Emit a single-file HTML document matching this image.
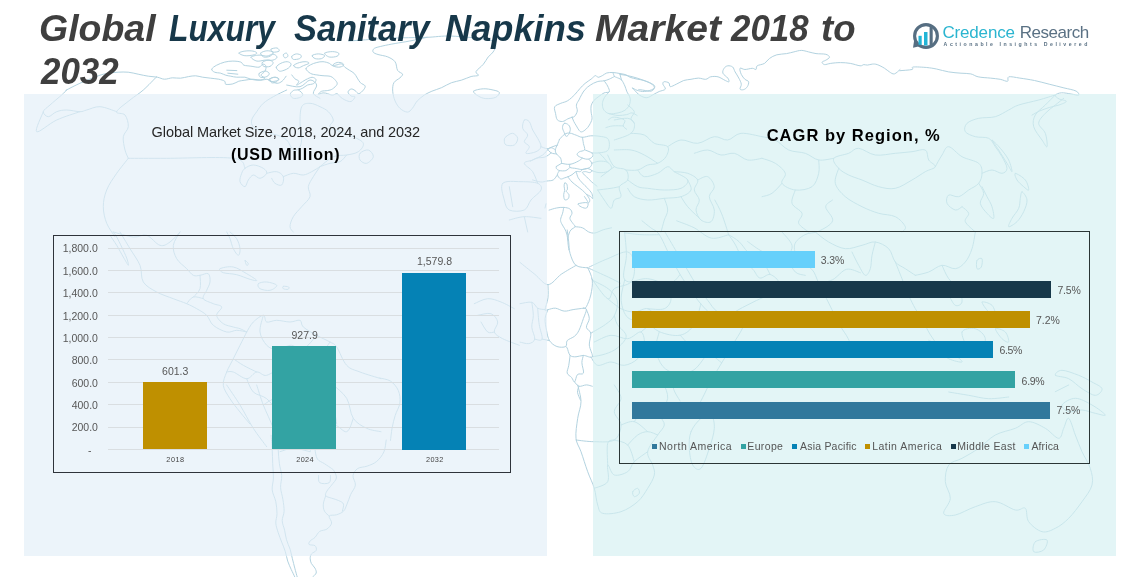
<!DOCTYPE html><html lang="en"><head><meta charset="utf-8"><title>Global Luxury Sanitary Napkins Market 2018 to 2032</title><style>
html,body{margin:0;padding:0;background:#fff}
body{width:1143px;height:577px;position:relative;overflow:hidden;font-family:"Liberation Sans",sans-serif}
.t{position:absolute;white-space:pre;margin:0}
.p{position:absolute}
.g{margin:0;padding:0;font:inherit;display:block}
span.t{display:block}
</style></head><body>
<svg class="p" style="left:0;top:0" width="1143" height="577" viewBox="0 0 1143 577" fill="none" stroke="#b3d3e0" stroke-width="1.0" stroke-linejoin="round" stroke-linecap="round" opacity="1"><path d="M286.7 85.0C288.9 85.3 296.0 87.5 300.0 86.7C304.0 85.8 307.2 80.3 310.0 80.0C312.8 79.7 316.1 82.7 316.7 85.0C317.2 87.3 312.8 91.1 313.3 93.3C313.9 95.6 318.9 97.5 320.0 98.3"/><path d="M156.7 76.7C154.4 78.9 147.9 86.0 143.3 90.0C138.8 94.0 134.5 96.3 130.0 100.0C125.5 103.7 117.5 109.1 116.7 111.7C115.8 114.2 123.0 112.5 125.0 115.0C127.0 117.5 128.6 123.0 128.3 126.7C128.1 130.3 123.9 132.7 123.3 136.7C122.8 140.6 124.1 146.3 125.0 150.0C125.9 153.7 127.8 156.9 128.3 158.3"/><path d="M128.3 158.3C134.8 158.3 148.8 158.3 166.7 158.3C184.5 158.3 220.0 156.6 233.3 158.3C246.7 160.0 243.0 166.6 245.0 168.3"/><path d="M128.3 158.3C126.4 160.9 120.4 168.0 116.7 173.3C113.0 178.7 108.9 184.3 106.7 190.0C104.4 195.7 103.3 201.0 103.3 206.7C103.3 212.3 104.7 218.2 106.7 223.3C108.7 228.4 113.6 234.4 115.0 236.7"/><path d="M66.7 90.0C65.8 90.8 64.5 92.5 61.7 95.0C58.8 97.5 53.1 102.2 50.0 105.0C46.9 107.8 43.6 109.7 43.3 111.7C43.1 113.7 46.1 116.7 48.3 116.7C50.6 116.7 53.5 112.8 56.7 111.7C59.8 110.5 62.7 110.0 66.7 110.0C70.6 110.0 76.6 111.7 80.0 111.7C83.4 111.7 83.3 110.8 86.7 110.0C90.1 109.2 94.9 106.4 100.0 106.7C105.1 107.0 113.8 110.8 116.7 111.7"/><path d="M43.3 111.7C42.2 115.1 34.4 130.3 36.7 131.7C38.9 133.1 49.3 123.4 56.7 120.0C64.0 116.6 76.0 113.1 80.0 111.7"/><path d="M286.7 90.0C284.4 91.1 277.3 94.4 273.3 96.7C269.4 98.9 266.2 100.8 263.3 103.3C260.5 105.9 258.7 108.8 256.7 111.7C254.7 114.5 252.2 117.5 251.7 120.0C251.1 122.5 251.4 124.7 253.3 126.7C255.3 128.7 259.4 130.3 263.3 131.7C267.3 133.1 272.7 133.6 276.7 135.0C280.6 136.4 283.8 137.4 286.7 140.0C289.5 142.6 291.1 148.9 293.3 150.0C295.6 151.1 298.6 148.9 300.0 146.7C301.4 144.4 301.7 140.6 301.7 136.7C301.7 132.7 300.0 128.4 300.0 123.3C300.0 118.2 300.0 110.1 301.7 106.7C303.4 103.3 306.9 103.3 310.0 103.3C313.1 103.3 316.9 105.2 320.0 106.7C323.1 108.1 326.1 109.4 328.3 111.7C330.6 113.9 333.0 117.5 333.3 120.0C333.6 122.5 328.9 124.7 330.0 126.7C331.1 128.7 336.0 130.0 340.0 131.7C344.0 133.4 349.4 134.7 353.3 136.7C357.3 138.7 362.5 140.8 363.3 143.3C364.2 145.9 361.2 149.7 358.3 151.7C355.5 153.7 350.9 154.2 346.7 155.0C342.4 155.8 337.9 154.7 333.3 156.7C328.8 158.7 322.3 165.0 320.0 166.7"/><path d="M245.0 168.3C247.0 166.9 250.2 165.0 253.3 165.0C256.4 165.0 261.1 166.9 263.3 168.3C265.6 169.8 267.2 171.6 266.7 173.3C266.1 175.0 262.3 178.1 260.0 178.3C257.7 178.6 255.3 174.7 253.3 175.0C251.4 175.3 249.8 178.0 248.3 180.0C246.9 182.0 246.4 186.4 245.0 186.7C243.6 186.9 240.6 183.9 240.0 181.7C239.4 179.4 240.8 175.6 241.7 173.3C242.5 171.1 243.0 169.8 245.0 168.3"/><path d="M266.7 173.3C268.4 173.1 273.8 171.1 276.7 171.7C279.5 172.2 282.5 174.4 283.3 176.7C284.2 178.9 283.1 183.9 281.7 185.0C280.2 186.1 276.7 184.5 275.0 183.3C273.3 182.2 272.2 179.2 271.7 178.3"/><path d="M283.3 176.7C285.0 176.1 289.9 173.6 293.3 173.3C296.7 173.1 300.2 175.3 303.3 175.0C306.4 174.7 308.8 173.1 311.7 171.7C314.5 170.2 318.6 167.5 320.0 166.7"/><path d="M320.0 166.7C321.7 166.1 326.6 164.2 330.0 163.3C333.4 162.5 337.2 163.1 340.0 161.7C342.8 160.3 345.5 156.1 346.7 155.0"/><path d="M320.0 166.7C318.9 168.4 315.3 173.3 313.3 176.7C311.3 180.1 308.9 183.3 308.3 186.7C307.8 190.1 311.1 193.3 310.0 196.7C308.9 200.1 304.5 203.3 301.7 206.7C298.8 210.1 295.3 213.3 293.3 216.7C291.3 220.1 290.0 224.1 290.0 226.7C290.0 229.3 292.8 231.1 293.3 232.0"/><path d="M360.0 153.3C361.4 151.6 366.1 149.4 368.3 150.0C370.6 150.6 373.6 154.4 373.3 156.7C373.1 158.9 368.9 162.8 366.7 163.3C364.4 163.9 361.1 161.7 360.0 160.0C358.9 158.3 358.6 155.0 360.0 153.3"/><path d="M348.6 41.0C351.5 40.8 359.9 40.2 365.7 39.8C371.6 39.4 376.6 38.9 382.9 38.6C389.1 38.2 395.0 38.0 402.5 37.8C410.0 37.6 418.7 37.6 427.0 37.3C435.3 37.1 441.1 35.7 451.5 36.1C461.9 36.5 480.7 38.3 488.2 39.8C495.7 41.3 494.7 42.6 495.6 44.7C496.4 46.8 494.4 50.0 493.1 52.0C491.9 54.1 489.9 54.9 488.2 56.9C486.6 59.0 485.4 61.8 483.3 64.3C481.2 66.8 476.8 69.8 476.0 71.6C475.1 73.5 479.3 74.5 478.4 75.3C477.6 76.2 474.0 75.7 471.1 76.5C468.2 77.4 464.6 79.2 461.3 80.2C458.0 81.3 454.8 81.4 451.5 82.7C448.2 83.9 445.0 86.1 441.7 87.6C438.4 89.0 434.8 90.0 431.9 91.2C429.0 92.5 427.0 93.3 424.5 94.9C422.0 96.6 419.3 98.8 417.2 101.0C415.1 103.3 414.0 106.5 412.3 108.4C410.6 110.3 409.5 112.1 407.4 112.1C405.3 112.1 402.1 110.3 400.0 108.4C398.0 106.5 396.4 104.0 395.1 101.0C393.9 98.1 392.9 94.4 392.7 91.2C392.5 88.1 392.7 85.0 393.9 82.7C395.2 80.4 398.6 79.2 400.0 77.8C401.5 76.3 402.9 75.3 402.5 74.1C402.1 72.8 398.8 72.5 397.6 70.4C396.3 68.3 396.8 64.1 395.1 61.8C393.5 59.6 390.7 58.2 387.8 56.9C384.9 55.7 380.5 55.3 378.0 54.5C375.5 53.7 373.7 53.1 373.1 52.0C372.5 51.0 372.7 49.4 374.3 48.4C376.0 47.3 379.4 46.8 382.9 45.9C386.4 45.1 390.6 44.3 395.1 43.5C399.7 42.6 404.4 42.1 409.8 41.0C415.3 40.0 424.1 38.0 427.0 37.3"/><path d="M473.5 91.2C474.4 90.0 480.0 89.0 483.3 88.8C486.7 88.6 490.4 89.4 493.1 90.0C495.8 90.6 498.8 91.2 499.3 92.5C499.7 93.7 497.9 96.3 495.6 97.4C493.3 98.4 488.7 98.8 485.8 98.6C482.9 98.4 480.5 97.4 478.4 96.1C476.3 94.9 472.7 92.5 473.5 91.2"/><path d="M524.3 120.0C525.5 118.9 527.9 120.0 529.3 121.7C530.8 123.4 531.2 127.2 532.7 130.0C534.1 132.8 536.2 135.5 537.7 138.3C539.1 141.2 541.3 144.4 541.0 146.7C540.7 148.9 538.5 150.5 536.0 151.7C533.5 152.8 527.1 154.2 526.0 153.3C524.9 152.5 529.6 148.7 529.3 146.7C529.1 144.7 524.6 143.7 524.3 141.7C524.1 139.7 527.9 137.3 527.7 135.0C527.4 132.7 523.2 130.9 522.7 128.3C522.1 125.8 523.2 121.1 524.3 120.0"/><path d="M506.0 136.7C507.4 135.5 510.7 133.0 512.7 133.3C514.6 133.6 517.4 136.3 517.7 138.3C517.9 140.3 516.3 143.9 514.3 145.0C512.4 146.1 507.7 145.8 506.0 145.0C504.3 144.2 504.3 141.4 504.3 140.0C504.3 138.6 504.6 137.8 506.0 136.7"/><path d="M502.7 183.3C505.5 180.2 515.0 181.7 521.0 181.7C527.0 181.7 534.3 181.9 537.7 183.3C541.1 184.8 542.1 187.2 541.0 190.0C539.9 192.8 533.8 196.6 531.0 200.0C528.2 203.4 528.0 208.3 524.3 210.0C520.7 211.7 512.7 211.7 509.3 210.0C505.9 208.3 505.5 204.5 504.3 200.0C503.2 195.5 499.8 186.5 502.7 183.3"/><path d="M509.3 186.7 L512.7 206.7"/><path d="M537.7 183.3C536.8 181.3 534.9 175.1 532.7 171.7C530.4 168.3 524.3 165.3 524.3 163.3C524.3 161.3 529.5 161.4 532.7 160.0C535.8 158.6 539.8 157.0 542.7 155.0C545.5 153.0 546.8 150.0 549.3 148.3C551.9 146.6 556.2 145.6 557.7 145.0"/><path d="M597.7 190.0C598.8 191.7 602.1 196.9 604.3 200.0C606.6 203.1 609.3 208.3 611.0 208.3C612.7 208.3 612.6 202.0 614.3 200.0C616.0 198.0 620.1 198.9 621.0 196.7C621.9 194.4 618.2 189.5 619.3 186.7C620.5 183.8 626.5 182.8 627.7 180.0C628.8 177.2 628.3 172.3 626.0 170.0C623.7 167.7 617.5 169.2 614.3 166.7C611.2 164.1 608.8 157.0 607.7 155.0"/><path d="M601.0 176.7 L614.3 166.7"/><path d="M597.7 190.0C599.9 189.7 607.3 188.9 611.0 188.3C614.7 187.8 617.9 186.9 619.3 186.7"/><path d="M614.3 120.0C616.6 119.7 624.3 117.8 627.7 118.3C631.1 118.9 633.8 120.8 634.3 123.3C634.9 125.9 634.4 130.5 631.0 133.3C627.6 136.2 617.2 138.9 614.3 140.0"/><path d="M631.0 133.3C633.3 133.6 640.4 133.3 644.3 135.0C648.3 136.7 650.4 141.3 654.3 143.3C658.3 145.3 665.7 144.4 667.7 146.7C669.7 148.9 667.7 153.8 666.0 156.7C664.3 159.5 660.8 161.9 657.7 163.3C654.6 164.7 651.1 163.9 647.7 165.0C644.3 166.1 641.4 169.2 637.7 170.0C634.0 170.8 628.0 170.0 626.0 170.0"/><path d="M614.3 150.0C617.2 150.0 625.9 149.2 631.0 150.0C636.1 150.8 639.8 152.7 644.3 155.0C648.9 157.3 655.4 161.9 657.7 163.3"/><path d="M637.7 170.0C638.8 171.1 640.9 176.1 644.3 176.7C647.7 177.2 653.7 175.0 657.7 173.3C661.6 171.6 664.8 167.0 667.7 166.7C670.5 166.4 670.9 169.4 674.3 171.7C677.7 173.9 686.5 177.2 687.7 180.0C688.8 182.8 685.0 186.6 681.0 188.3C677.0 190.0 670.0 190.0 664.3 190.0C658.7 190.0 652.2 188.9 647.7 188.3C643.1 187.8 641.1 188.1 637.7 186.7C634.3 185.2 629.4 181.1 627.7 180.0"/><path d="M627.7 188.3C628.8 189.8 630.9 194.7 634.3 196.7C637.7 198.6 642.6 199.7 647.7 200.0C652.8 200.3 658.7 198.9 664.3 198.3C670.0 197.8 676.5 198.1 681.0 196.7C685.5 195.2 689.9 192.8 691.0 190.0C692.1 187.2 688.2 181.7 687.7 180.0"/><path d="M674.3 171.7C676.6 171.9 683.7 171.9 687.7 173.3C691.6 174.8 696.5 177.2 697.7 180.0C698.8 182.8 694.0 186.6 694.3 190.0C694.6 193.4 699.0 196.6 699.3 200.0C699.6 203.4 695.7 206.6 696.0 210.0C696.3 213.4 698.5 218.0 701.0 220.0C703.5 222.0 708.7 223.4 711.0 221.7C713.3 220.0 714.6 214.2 714.3 210.0C714.0 205.8 709.3 200.6 709.3 196.7C709.3 192.7 714.6 190.1 714.3 186.7C714.0 183.3 710.5 177.8 707.7 176.7C704.8 175.5 699.4 179.4 697.7 180.0"/><path d="M627.7 105.0C628.8 106.1 633.8 109.4 634.3 111.7C634.9 113.9 631.0 116.3 631.0 118.3C631.0 120.3 633.8 122.5 634.3 123.3"/><path d="M667.7 146.7C669.9 145.5 675.9 140.6 681.0 140.0C686.1 139.4 692.0 143.9 697.7 143.3C703.3 142.8 709.2 137.2 714.3 136.7C719.4 136.1 723.1 140.6 727.7 140.0C732.2 139.4 735.2 133.9 741.0 133.3C746.8 132.8 758.4 136.1 762.0 136.7"/><path d="M694.3 153.3C696.6 152.8 703.1 149.7 707.7 150.0C712.2 150.3 716.5 154.4 721.0 155.0C725.5 155.6 729.8 152.5 734.3 153.3C738.9 154.2 743.0 159.2 747.7 160.0C752.4 160.8 759.6 158.6 762.0 158.3"/><path d="M509.3 220.0C511.9 219.4 519.0 216.9 524.3 216.7C529.7 216.4 538.2 218.1 541.0 218.3"/><path d="M524.3 216.7 L527.7 232.0"/><path d="M664.3 198.3C664.9 200.3 667.7 206.3 667.7 210.0C667.7 213.7 665.5 216.3 664.3 220.0C663.2 223.7 661.6 230.0 661.0 232.0"/><path d="M681.0 196.7C682.1 198.4 684.8 203.3 687.7 206.7C690.5 210.1 695.4 214.4 697.7 216.7C699.9 218.9 700.4 219.4 701.0 220.0"/><path d="M1055.3 95.0C1053.6 96.7 1048.7 101.6 1045.3 105.0C1041.9 108.4 1037.3 111.3 1035.3 115.0C1033.3 118.7 1032.5 122.4 1033.7 126.7C1034.8 130.9 1039.7 136.6 1042.0 140.0C1044.3 143.4 1046.4 147.8 1047.0 146.7C1047.6 145.5 1046.8 137.3 1045.3 133.3C1043.9 129.4 1038.7 126.7 1038.7 123.3C1038.7 119.9 1042.5 116.4 1045.3 113.3C1048.2 110.2 1052.2 107.5 1055.3 105.0C1058.5 102.5 1062.2 99.5 1063.7 98.3"/><path d="M1055.3 95.0C1052.5 95.8 1044.9 98.3 1038.7 100.0C1032.4 101.7 1023.8 103.3 1018.7 105.0C1013.6 106.7 1012.6 108.0 1008.7 110.0C1004.7 112.0 1000.4 115.2 995.3 116.7C990.2 118.1 983.5 117.2 978.7 118.3C973.8 119.5 969.3 121.1 967.0 123.3C964.7 125.6 963.9 129.4 965.3 131.7C966.8 133.9 971.4 135.5 975.3 136.7C979.3 137.8 985.3 136.6 988.7 138.3C992.1 140.0 993.1 143.6 995.3 146.7C997.6 149.8 1000.0 153.0 1002.0 156.7C1004.0 160.4 1007.0 165.5 1007.0 168.3C1007.0 171.2 1004.5 173.1 1002.0 173.3C999.5 173.6 995.4 170.0 992.0 170.0C988.6 170.0 983.7 172.8 982.0 173.3"/><path d="M992.0 140.0C991.7 140.3 996.1 146.0 998.7 150.0C1001.2 154.0 1004.7 159.6 1007.0 163.3C1009.3 167.0 1011.7 172.2 1012.0 171.7C1012.3 171.1 1010.6 164.0 1008.7 160.0C1006.7 156.0 1003.2 151.7 1000.3 148.3C997.5 144.9 992.3 139.7 992.0 140.0"/><path d="M833.7 158.3C835.4 155.8 844.4 155.0 848.7 153.3C852.9 151.6 854.1 148.0 858.7 148.3C863.2 148.6 869.1 154.2 875.3 155.0C881.6 155.8 889.1 153.9 895.3 153.3C901.6 152.8 906.9 152.2 912.0 151.7C917.1 151.1 922.5 148.6 925.3 150.0C928.2 151.4 927.0 157.2 928.7 160.0C930.4 162.8 935.9 164.7 935.3 166.7C934.8 168.7 929.3 169.4 925.3 171.7C921.4 173.9 917.1 177.2 912.0 180.0C906.9 182.8 901.0 187.2 895.3 188.3C889.7 189.5 884.3 188.1 878.7 186.7C873.0 185.2 867.1 182.0 862.0 180.0C856.9 178.0 852.6 177.0 848.7 175.0C844.7 173.0 841.2 171.2 838.7 168.3C836.1 165.5 832.0 160.9 833.7 158.3"/><path d="M935.3 166.7C936.5 164.7 939.7 158.4 942.0 155.0C944.3 151.6 945.3 146.4 948.7 146.7C952.1 147.0 956.9 153.8 962.0 156.7C967.1 159.5 975.3 160.5 978.7 163.3C982.1 166.2 982.0 169.9 982.0 173.3C982.0 176.7 980.9 180.5 978.7 183.3C976.4 186.2 972.1 187.7 968.7 190.0C965.3 192.3 962.1 195.8 958.7 196.7C955.3 197.5 950.6 193.9 948.7 195.0C946.7 196.1 945.9 200.8 947.0 203.3C948.1 205.9 952.8 209.4 955.3 210.0C957.9 210.6 960.9 207.2 962.0 206.7"/><path d="M978.7 183.3C979.5 185.0 983.4 189.9 983.7 193.3C983.9 196.7 979.8 199.9 980.3 203.3C980.9 206.7 984.7 210.8 987.0 213.3C989.3 215.9 992.8 219.5 993.7 218.3C994.5 217.2 993.1 210.3 992.0 206.7C990.9 203.0 988.7 200.1 987.0 196.7C985.3 193.3 982.9 188.4 982.0 186.7"/><path d="M1015.3 173.3C1016.8 173.3 1023.1 177.2 1025.3 180.0C1027.6 182.8 1029.0 188.9 1028.7 190.0C1028.4 191.1 1025.7 188.4 1023.7 186.7C1021.7 185.0 1018.4 182.3 1017.0 180.0C1015.6 177.7 1013.9 173.3 1015.3 173.3"/><path d="M1022.0 191.7C1023.1 191.9 1026.7 196.6 1027.0 200.0C1027.3 203.4 1025.4 208.0 1023.7 211.7C1022.0 215.3 1019.6 219.1 1017.0 221.7C1014.4 224.2 1009.5 227.2 1008.7 226.7C1007.8 226.1 1010.3 221.5 1012.0 218.3C1013.7 215.2 1017.3 211.7 1018.7 208.3C1020.1 204.9 1019.8 201.2 1020.3 198.3C1020.9 195.5 1020.9 191.4 1022.0 191.7"/><path d="M962.0 206.7C963.1 207.8 968.1 210.8 968.7 213.3C969.2 215.9 964.2 218.5 965.3 221.7C966.5 224.8 973.6 230.2 975.3 232.0"/><path d="M762.0 136.7C764.3 137.2 770.8 137.7 775.3 140.0C779.9 142.3 783.6 147.7 788.7 150.0C793.8 152.3 800.2 151.6 805.3 153.3C810.4 155.0 813.9 159.2 818.7 160.0C823.5 160.8 831.1 158.6 833.7 158.3"/><path d="M762.0 158.3C764.3 159.2 771.4 160.8 775.3 163.3C779.3 165.9 784.2 169.9 785.3 173.3C786.5 176.7 780.3 180.5 782.0 183.3C783.7 186.2 790.2 189.4 795.3 190.0C800.4 190.6 808.0 189.5 812.0 186.7C816.0 183.8 817.5 177.9 818.7 173.3C819.8 168.8 818.7 162.3 818.7 160.0"/><path d="M795.3 190.0C794.8 192.3 790.9 199.4 792.0 203.3C793.1 207.3 800.9 209.9 802.0 213.3C803.1 216.7 797.5 220.2 798.7 223.3C799.8 226.5 807.0 230.5 808.7 232.0"/><path d="M782.0 183.3C780.3 185.0 775.4 191.1 772.0 193.3C768.6 195.6 763.7 196.1 762.0 196.7"/><path d="M838.7 168.3C838.1 170.9 834.2 178.5 835.3 183.3C836.5 188.2 840.8 192.7 845.3 196.7C849.9 200.6 856.3 203.8 862.0 206.7C867.7 209.5 873.0 211.6 878.7 213.3C884.3 215.0 890.8 214.4 895.3 216.7C899.9 218.9 904.2 224.1 905.3 226.7C906.5 229.3 902.6 231.1 902.0 232.0"/><path d="M110.0 235.3C111.1 237.0 114.4 241.7 116.7 245.3C118.9 249.0 121.3 253.6 123.3 257.0C125.3 260.4 127.8 265.2 128.3 265.3C128.9 265.5 127.8 261.1 126.7 258.0C125.5 254.9 123.4 250.6 121.7 247.0C120.0 243.4 118.1 239.6 116.7 237.0C115.2 234.4 113.9 232.8 113.3 232.0"/><path d="M120.0 232.0C121.7 234.8 126.6 243.0 130.0 248.7C133.4 254.3 137.7 259.7 140.0 265.3C142.3 271.0 140.5 277.5 143.3 282.0C146.2 286.5 151.6 289.2 156.7 292.0C161.8 294.8 168.2 296.7 173.3 298.7C178.4 300.7 182.7 302.0 186.7 303.7C190.6 305.4 193.3 306.7 196.7 308.7C200.1 310.7 203.8 312.5 206.7 315.3C209.5 318.2 209.9 322.5 213.3 325.3C216.7 328.2 222.7 331.1 226.7 332.0C230.6 332.9 233.3 330.3 236.7 330.3C240.1 330.3 245.0 331.7 246.7 332.0"/><path d="M180.0 232.0C178.9 234.3 173.9 240.8 173.3 245.3C172.8 249.9 174.4 254.7 176.7 258.7C178.9 262.6 183.8 265.8 186.7 268.7C189.5 271.5 191.1 274.2 193.3 275.3C195.6 276.5 197.4 275.6 200.0 275.3C202.6 275.1 206.6 272.5 208.3 273.7C210.0 274.8 210.3 279.2 210.0 282.0C209.7 284.8 207.8 287.5 206.7 290.3C205.5 293.2 202.2 296.4 203.3 298.7C204.5 300.9 210.2 302.2 213.3 303.7C216.5 305.1 221.1 305.0 221.7 307.0C222.2 309.0 216.4 312.5 216.7 315.3C216.9 318.2 220.5 321.7 223.3 323.7C226.2 325.7 230.5 326.1 233.3 327.0C236.2 327.9 237.7 327.8 240.0 328.7C242.3 329.5 245.5 331.4 246.7 332.0"/><path d="M186.7 303.7C187.8 302.5 190.5 297.9 193.3 297.0C196.2 296.1 201.6 298.4 203.3 298.7"/><path d="M200.0 275.3C200.0 277.6 201.1 285.0 200.0 288.7C198.9 292.4 194.5 295.6 193.3 297.0"/><path d="M113.3 232.0C116.7 232.8 127.7 236.4 133.3 237.0C139.0 237.6 142.1 233.9 146.7 235.3C151.2 236.8 156.0 244.2 160.0 245.3C164.0 246.5 166.6 244.3 170.0 242.0C173.4 239.7 178.3 233.7 180.0 232.0"/><path d="M230.0 232.0C231.1 233.1 235.0 235.8 236.7 238.7C238.4 241.5 239.7 245.8 240.0 248.7C240.3 251.5 239.5 255.3 238.3 255.3C237.2 255.3 234.8 251.5 233.3 248.7C231.9 245.8 231.1 241.5 230.0 238.7C228.9 235.8 227.2 233.1 226.7 232.0"/><path d="M220.0 268.7C221.7 267.7 228.8 266.1 233.3 267.0C237.9 267.9 242.7 271.4 246.7 273.7C250.6 275.9 256.1 279.4 256.7 280.3C257.2 281.3 253.4 280.3 250.0 279.3C246.6 278.4 241.2 275.8 236.7 274.7C232.1 273.5 226.2 273.7 223.3 272.7C220.5 271.6 218.3 269.6 220.0 268.7"/><path d="M258.3 283.7C259.5 282.5 263.6 281.7 266.7 282.0C269.8 282.3 276.1 283.9 276.7 285.3C277.2 286.8 272.8 289.8 270.0 290.3C267.2 290.9 262.0 289.8 260.0 288.7C258.0 287.5 257.2 284.8 258.3 283.7"/><path d="M283.3 286.3C284.2 286.0 287.9 286.5 288.7 287.0C289.5 287.5 288.9 289.0 288.0 289.3C287.1 289.6 284.1 289.2 283.3 288.7C282.5 288.2 282.4 286.6 283.3 286.3"/><path d="M245.0 260.3C245.3 260.1 248.1 262.8 248.3 263.7C248.6 264.5 247.2 265.9 246.7 265.3C246.1 264.8 244.7 260.6 245.0 260.3"/><path d="M246.7 332.0C247.8 330.3 250.5 324.8 253.3 322.0C256.2 319.2 261.1 315.3 263.3 315.3C265.6 315.3 264.4 321.1 266.7 322.0C268.9 322.9 272.7 320.3 276.7 320.3C280.6 320.3 286.0 322.0 290.0 322.0C294.0 322.0 297.7 319.5 300.0 320.3C302.3 321.2 300.5 324.4 303.3 327.0C306.2 329.6 312.1 332.8 316.7 335.3C321.2 337.9 326.6 340.0 330.0 342.0C333.4 344.0 333.8 343.0 336.7 347.0C339.5 351.0 342.7 361.1 346.7 365.3C350.6 369.6 354.2 369.7 360.0 372.0C365.8 374.3 377.4 377.5 381.0 378.7"/><path d="M246.7 332.0C245.5 334.3 242.3 340.8 240.0 345.3C237.7 349.9 235.6 354.1 233.3 358.7C231.1 363.2 228.4 367.5 226.7 372.0C225.0 376.5 222.8 380.8 223.3 385.3C223.9 389.9 227.2 394.1 230.0 398.7C232.8 403.2 236.6 407.7 240.0 412.0C243.4 416.3 248.3 422.0 250.0 424.0"/><path d="M263.3 315.3C262.8 318.2 259.4 326.9 260.0 332.0C260.6 337.1 263.8 341.9 266.7 345.3C269.5 348.7 274.4 348.6 276.7 352.0C278.9 355.4 281.7 361.4 280.0 365.3C278.3 369.3 270.6 374.2 266.7 375.3C262.7 376.5 260.1 371.4 256.7 372.0C253.3 372.6 250.6 378.7 246.7 378.7C242.7 378.7 236.7 373.1 233.3 372.0C229.9 370.9 227.8 372.0 226.7 372.0"/><path d="M276.7 352.0C278.9 350.9 285.5 345.9 290.0 345.3C294.5 344.8 298.8 350.4 303.3 348.7C307.9 347.0 314.4 337.6 316.7 335.3"/><path d="M303.3 348.7C304.5 350.4 307.2 357.5 310.0 358.7C312.8 359.8 316.6 358.2 320.0 355.3C323.4 352.5 328.3 344.3 330.0 342.0"/><path d="M280.0 365.3C282.3 366.5 289.9 368.0 293.3 372.0C296.7 376.0 296.0 385.3 300.0 388.7C304.0 392.1 313.3 388.6 316.7 392.0C320.1 395.4 317.2 405.3 320.0 408.7C322.8 412.1 330.5 409.4 333.3 412.0C336.2 414.6 336.1 422.0 336.7 424.0"/><path d="M246.7 378.7C247.8 380.9 249.9 388.6 253.3 392.0C256.7 395.4 262.7 395.3 266.7 398.7C270.6 402.1 275.0 407.7 276.7 412.0C278.4 416.3 276.7 422.0 276.7 424.0"/><path d="M233.3 358.7C235.0 359.8 239.4 363.1 243.3 365.3C247.3 367.6 254.4 370.9 256.7 372.0"/><path d="M474.3 303.7C476.6 302.8 483.1 299.0 487.7 298.7C492.2 298.4 496.5 300.3 501.0 302.0C505.5 303.7 512.1 307.5 514.3 308.7"/><path d="M477.7 315.3C479.9 315.1 487.6 312.5 491.0 313.7C494.4 314.8 497.1 318.9 497.7 322.0C498.2 325.1 493.5 329.2 494.3 332.0C495.2 334.8 498.4 336.4 502.7 338.7C506.9 340.9 516.5 344.2 519.3 345.3"/><path d="M481.0 322.0C482.1 323.7 485.4 330.3 487.7 332.0C489.9 333.7 493.2 332.0 494.3 332.0"/><path d="M589.3 267.0C592.5 265.6 601.1 261.2 607.7 258.7C614.2 256.1 623.1 250.9 627.7 252.0C632.2 253.1 633.8 260.2 634.3 265.3C634.9 270.4 634.4 278.0 631.0 282.0C627.6 286.0 618.3 285.8 614.3 288.7C610.4 291.5 611.5 300.4 607.7 298.7C603.8 297.0 594.4 282.1 591.7 278.7"/><path d="M594.3 342.0C597.2 340.9 605.3 335.9 611.0 335.3C616.7 334.8 622.6 339.2 627.7 338.7C632.8 338.1 638.2 330.9 641.0 332.0C643.8 333.1 644.9 340.8 644.3 345.3C643.8 349.9 641.1 355.3 637.7 358.7C634.3 362.1 628.9 364.8 624.3 365.3C619.8 365.9 615.5 362.0 611.0 362.0C606.5 362.0 601.1 366.2 597.7 365.3C594.3 364.5 592.1 358.4 591.0 357.0"/><path d="M607.7 298.7C609.9 300.4 616.5 306.4 621.0 308.7C625.5 310.9 629.8 312.0 634.3 312.0C638.9 312.0 644.3 307.5 647.7 308.7C651.1 309.8 655.5 314.7 654.3 318.7C653.2 322.6 643.3 329.7 641.0 332.0"/><path d="M631.0 282.0C633.8 281.4 642.0 278.1 647.7 278.7C653.3 279.2 660.4 281.9 664.3 285.3C668.3 288.7 671.0 294.7 671.0 298.7C671.0 302.6 668.3 307.0 664.3 308.7C660.4 310.4 650.5 308.7 647.7 308.7"/><path d="M782.0 232.0C783.7 234.3 790.9 240.8 792.0 245.3C793.1 249.9 788.1 254.1 788.7 258.7C789.2 263.2 792.5 269.2 795.3 272.0C798.2 274.8 803.6 274.8 805.3 275.3"/><path d="M815.3 232.0C817.6 233.7 823.6 239.2 828.7 242.0C833.8 244.8 839.7 248.1 845.3 248.7C851.0 249.2 856.9 246.5 862.0 245.3C867.1 244.2 870.8 241.4 875.3 242.0C879.9 242.6 885.3 245.3 888.7 248.7C892.1 252.1 892.5 258.6 895.3 262.0C898.2 265.4 901.9 266.4 905.3 268.7C908.7 270.9 913.6 274.2 915.3 275.3"/><path d="M852.0 252.0C853.1 254.3 856.4 261.4 858.7 265.3C860.9 269.3 863.4 274.8 865.3 275.3C867.3 275.9 869.2 272.1 870.3 268.7C871.5 265.3 871.1 259.9 872.0 255.3C872.9 250.8 874.8 244.3 875.3 242.0"/><path d="M895.3 262.0C896.5 264.8 899.7 273.0 902.0 278.7C904.3 284.3 906.4 290.2 908.7 295.3C910.9 300.4 913.1 304.7 915.3 308.7C917.6 312.6 919.7 314.7 922.0 318.7C924.3 322.6 926.4 328.0 928.7 332.0C930.9 336.0 934.2 340.3 935.3 342.0"/><path d="M915.3 275.3C917.6 274.8 924.1 273.7 928.7 272.0C933.2 270.3 937.5 265.9 942.0 265.3C946.5 264.8 951.4 269.2 955.3 268.7C959.3 268.1 962.5 265.4 965.3 262.0C968.2 258.6 970.3 253.8 972.0 248.7C973.7 243.6 974.8 234.8 975.3 232.0"/><path d="M942.0 265.3C943.1 267.6 945.8 274.7 948.7 278.7C951.5 282.6 956.4 284.7 958.7 288.7C960.9 292.6 962.6 299.2 962.0 302.0C961.4 304.8 957.6 306.5 955.3 305.3C953.1 304.2 950.9 298.7 948.7 295.3C946.4 291.9 943.1 287.0 942.0 285.3"/><path d="M977.0 260.3C977.9 258.6 981.3 257.5 982.0 258.7C982.7 259.8 982.2 265.3 981.3 267.0C980.5 268.7 977.7 269.8 977.0 268.7C976.3 267.5 976.1 262.0 977.0 260.3"/><path d="M982.0 302.0C982.6 300.9 989.7 303.1 992.0 305.3C994.3 307.6 995.9 314.2 995.3 315.3C994.8 316.5 990.9 314.3 988.7 312.0C986.4 309.7 981.4 303.1 982.0 302.0"/><path d="M995.3 328.7C995.9 327.5 1003.1 329.7 1005.3 332.0C1007.6 334.3 1009.2 340.9 1008.7 342.0C1008.1 343.1 1004.3 340.9 1002.0 338.7C999.7 336.4 994.8 329.8 995.3 328.7"/><path d="M922.0 342.0C924.3 343.1 930.8 345.8 935.3 348.7C939.9 351.5 944.1 356.4 948.7 358.7C953.2 360.9 960.9 362.6 962.0 362.0C963.1 361.4 958.7 357.9 955.3 355.3C951.9 352.8 946.5 349.6 942.0 347.0C937.5 344.4 930.9 341.5 928.7 340.3"/><path d="M962.0 332.0C963.1 328.6 971.4 327.5 975.3 328.7C979.3 329.8 984.8 334.7 985.3 338.7C985.9 342.6 981.5 350.3 978.7 352.0C975.8 353.7 971.5 352.1 968.7 348.7C965.8 345.3 960.9 335.4 962.0 332.0"/><path d="M948.7 392.0C952.1 392.6 961.9 394.2 968.7 395.3C975.5 396.5 981.9 398.4 988.7 398.7C995.5 398.9 1005.3 397.3 1008.7 397.0"/><path d="M1055.3 375.3C1056.5 376.8 1064.1 376.4 1068.7 378.7C1073.2 380.9 1077.5 385.8 1082.0 388.7C1086.5 391.5 1091.9 395.3 1095.3 395.3C1098.7 395.3 1102.6 390.9 1102.0 388.7C1101.4 386.4 1096.0 384.3 1092.0 382.0C1088.0 379.7 1083.8 377.3 1078.7 375.3C1073.6 373.4 1066.0 370.3 1062.0 370.3C1058.0 370.3 1054.2 373.9 1055.3 375.3"/><path d="M226.7 385.0C228.9 388.4 235.5 397.6 240.0 405.0C244.5 412.4 248.8 421.2 253.3 428.3C257.9 435.4 264.4 443.6 266.7 446.7"/><path d="M256.7 385.0C257.8 388.4 260.5 397.6 263.3 405.0C266.2 412.4 270.8 421.2 273.3 428.3C275.9 435.4 277.5 443.6 278.3 446.7"/><path d="M310.0 451.7C311.1 448.8 312.7 439.5 316.7 435.0C320.6 430.5 328.2 425.6 333.3 425.0C338.4 424.4 343.3 432.8 346.7 431.7C350.1 430.5 352.2 420.6 353.3 418.3"/><path d="M263.3 405.0C265.6 403.9 271.6 398.3 276.7 398.3C281.8 398.3 287.7 404.4 293.3 405.0C299.0 405.6 306.0 400.0 310.0 401.7C314.0 403.4 315.5 409.3 316.7 415.0C317.8 420.7 316.7 431.6 316.7 435.0"/><path d="M333.3 385.0C335.6 387.3 343.3 392.7 346.7 398.3C350.1 404.0 349.9 413.2 353.3 418.3C356.7 423.4 362.0 426.1 366.7 428.3C371.4 430.6 378.6 431.1 381.0 431.7"/><path d="M280.0 451.7C282.3 451.1 288.2 448.3 293.3 448.3C298.4 448.3 307.2 451.1 310.0 451.7"/><path d="M577.7 385.0C578.2 387.8 581.0 396.0 581.0 401.7C581.0 407.3 578.5 412.1 577.7 418.3C576.8 424.6 575.4 432.7 576.0 438.3C576.6 444.0 579.0 446.0 581.0 451.7C583.0 457.3 585.4 465.4 587.7 471.7C589.9 477.9 592.6 482.7 594.3 488.3C596.0 494.0 596.2 500.8 597.7 505.0C599.1 509.2 598.7 512.2 602.7 513.3C606.6 514.5 615.0 513.6 621.0 511.7C627.0 509.7 633.1 505.6 637.7 501.7C642.2 497.7 644.8 492.9 647.7 488.3C650.5 483.8 653.5 479.0 654.3 475.0C655.2 471.0 653.8 469.0 652.7 465.0C651.5 461.0 646.8 456.8 647.7 451.7C648.5 446.6 654.8 439.5 657.7 435.0C660.5 430.5 663.8 428.4 664.3 425.0C664.9 421.6 660.4 419.5 661.0 415.0C661.6 410.5 667.1 403.4 667.7 398.3C668.2 393.2 664.9 387.3 664.3 385.0"/><path d="M576.0 440.0C579.1 440.3 587.8 441.7 594.3 441.7C600.9 441.7 609.8 442.8 614.3 440.0C618.9 437.2 621.0 429.8 621.0 425.0C621.0 420.2 614.3 416.2 614.3 411.7C614.3 407.1 621.0 402.9 621.0 398.3C621.0 393.8 615.5 387.3 614.3 385.0"/><path d="M594.3 488.3C596.6 487.2 605.4 485.6 607.7 481.7C609.9 477.7 606.5 466.1 607.7 465.0C608.8 463.9 610.9 473.9 614.3 475.0C617.7 476.1 624.3 473.9 627.7 471.7C631.1 469.4 630.9 465.1 634.3 461.7C637.7 458.3 645.4 453.4 647.7 451.7"/><path d="M607.7 465.0C607.7 461.3 606.5 447.6 607.7 443.3C608.8 439.1 613.2 440.6 614.3 440.0"/><path d="M632.7 491.7C633.2 490.2 636.5 488.1 637.7 488.3C638.8 488.6 639.9 491.9 639.3 493.3C638.8 494.8 635.5 496.9 634.3 496.7C633.2 496.4 632.1 493.1 632.7 491.7"/><path d="M614.3 440.0C616.6 440.9 624.3 441.3 627.7 445.0C631.1 448.7 633.2 458.8 634.3 461.7"/><path d="M627.7 445.0C629.4 443.3 634.3 437.3 637.7 435.0C641.1 432.7 644.3 431.7 647.7 431.7C651.1 431.7 656.0 434.4 657.7 435.0"/><path d="M621.0 425.0C623.3 424.4 629.8 420.5 634.3 421.7C638.9 422.8 645.4 430.0 647.7 431.7"/><path d="M634.3 421.7C636.0 419.4 640.4 411.2 644.3 408.3C648.3 405.5 654.8 403.9 657.7 405.0C660.5 406.1 660.4 413.3 661.0 415.0"/><path d="M691.0 431.7C693.0 426.6 697.6 421.2 701.0 418.3C704.4 415.5 708.7 413.3 711.0 415.0C713.3 416.7 714.6 422.7 714.3 428.3C714.0 434.0 711.6 441.5 709.3 448.3C707.1 455.1 703.8 465.5 701.0 468.3C698.2 471.2 694.7 468.4 692.7 465.0C690.7 461.6 689.6 454.0 689.3 448.3C689.0 442.7 689.0 436.8 691.0 431.7"/><path d="M948.7 465.0C945.8 469.0 945.1 476.0 945.3 481.7C945.6 487.3 950.6 492.9 950.3 498.3C950.1 503.7 942.8 510.5 943.7 513.3C944.5 516.2 950.0 516.1 955.3 515.0C960.7 513.9 968.5 508.9 975.3 506.7C982.1 504.4 988.5 501.1 995.3 501.7C1002.1 502.2 1010.2 508.9 1015.3 510.0C1020.4 511.1 1023.1 506.3 1025.3 508.3C1027.6 510.3 1025.8 517.7 1028.7 521.7C1031.5 525.6 1037.5 530.5 1042.0 531.7C1046.5 532.8 1050.8 530.6 1055.3 528.3C1059.9 526.1 1064.1 522.9 1068.7 518.3C1073.2 513.8 1078.0 507.3 1082.0 501.7C1086.0 496.0 1090.6 490.7 1092.0 485.0C1093.4 479.3 1092.0 474.0 1090.3 468.3C1088.6 462.7 1084.5 457.3 1082.0 451.7C1079.5 446.0 1077.6 440.7 1075.3 435.0C1073.1 429.3 1070.7 419.5 1068.7 418.3C1066.7 417.2 1065.4 424.9 1063.7 428.3C1062.0 431.7 1061.8 438.3 1058.7 438.3C1055.5 438.3 1050.4 431.2 1045.3 428.3C1040.2 425.5 1033.8 421.7 1028.7 421.7C1023.6 421.7 1021.0 426.1 1015.3 428.3C1009.7 430.6 1001.6 431.6 995.3 435.0C989.1 438.4 984.3 444.4 978.7 448.3C973.0 452.3 967.1 455.5 962.0 458.3C956.9 461.2 951.5 461.0 948.7 465.0"/><path d="M1035.3 541.7C1037.6 539.7 1045.6 538.6 1047.0 540.0C1048.4 541.4 1045.9 548.0 1043.7 550.0C1041.4 552.0 1035.1 553.1 1033.7 551.7C1032.2 550.2 1033.1 543.6 1035.3 541.7"/><path d="M1055.3 391.7 L1068.7 385.0"/><path d="M1062.0 405.0C1063.1 402.7 1070.2 398.3 1075.3 398.3C1080.4 398.3 1086.9 402.2 1092.0 405.0C1097.1 407.8 1104.8 413.6 1105.3 415.0C1105.9 416.4 1099.3 414.2 1095.3 413.3C1091.4 412.5 1086.5 410.3 1082.0 410.0C1077.5 409.7 1072.1 412.5 1068.7 411.7C1065.3 410.8 1060.9 407.3 1062.0 405.0"/><path d="M572.1 117.2C571.3 117.5 569.4 118.2 567.7 118.9C566.1 119.7 564.3 121.4 562.5 121.5C560.8 121.7 558.5 121.1 557.3 119.8C556.2 118.5 556.0 115.9 555.6 113.7C555.2 111.5 553.8 108.6 554.7 106.8C555.6 105.0 558.6 104.4 560.8 103.3C563.0 102.3 565.4 102.2 567.7 100.7C570.1 99.3 572.6 96.7 574.7 94.7C576.7 92.6 578.1 90.5 579.9 88.6C581.6 86.7 583.1 85.0 585.1 83.4C587.0 81.8 589.4 80.4 591.1 79.1C592.9 77.7 594.3 75.9 595.5 75.6C596.6 75.3 596.9 77.3 598.1 77.3C599.2 77.3 600.9 76.3 602.4 75.6C603.9 74.9 605.0 73.5 606.7 73.0C608.5 72.5 610.6 72.4 612.8 72.5C615.0 72.6 617.5 73.1 619.7 73.5C621.9 73.9 624.0 74.1 625.8 74.7C627.6 75.4 628.2 76.6 630.1 77.3C632.0 78.1 634.7 78.5 637.1 79.1C639.4 79.6 641.6 79.7 644.0 80.5C646.3 81.2 649.2 82.2 650.9 83.4C652.7 84.6 654.4 86.4 654.4 87.7C654.4 89.1 652.7 90.8 650.9 91.2C649.2 91.6 646.0 90.6 644.0 90.3C641.9 90.0 639.7 89.6 638.8 89.5"/><path d="M614.5 76.5C613.6 76.9 611.1 78.3 609.3 79.1C607.6 79.8 606.2 80.4 604.1 80.8C602.1 81.2 599.5 80.9 597.2 81.7C594.8 82.4 592.3 83.8 590.3 85.1C588.2 86.5 586.5 87.8 585.1 89.5C583.6 91.1 582.6 92.9 581.6 94.7C580.6 96.4 579.9 98.1 579.0 99.9C578.1 101.6 576.7 103.1 576.4 105.1C576.1 107.0 577.6 109.2 577.3 111.1C577.0 113.0 575.5 115.3 574.7 116.3C573.8 117.4 572.5 117.0 572.1 117.2"/><path d="M604.1 80.8C604.7 81.7 606.7 84.1 607.6 86.0C608.5 87.9 609.9 90.5 609.3 91.7C608.7 92.9 605.9 92.1 604.1 92.9C602.4 93.7 600.7 95.1 598.9 96.4C597.2 97.7 595.1 99.1 593.7 100.7C592.4 102.3 591.6 104.0 591.1 105.9C590.7 107.8 591.0 109.8 591.1 112.0C591.3 114.2 592.3 116.7 592.0 118.9C591.7 121.1 590.4 123.2 589.4 125.0C588.4 126.8 587.3 128.1 585.9 129.3C584.6 130.5 582.8 131.8 581.6 131.9C580.4 132.1 579.9 131.2 579.0 130.2C578.1 129.2 577.3 127.3 576.4 125.9C575.5 124.4 574.5 123.0 573.8 121.5C573.1 120.1 572.4 117.9 572.1 117.2"/><path d="M612.8 72.5C613.1 73.2 613.9 75.6 614.5 76.5C615.1 77.3 615.1 76.7 616.3 77.3C617.4 77.9 620.0 78.5 621.5 79.9C622.9 81.4 624.0 84.1 624.9 86.0C625.8 87.9 625.8 89.1 626.7 91.2C627.5 93.3 629.7 95.8 630.1 98.1C630.6 100.5 630.1 103.0 629.3 105.1C628.4 107.1 626.8 108.9 624.9 110.3C623.0 111.6 620.6 112.3 618.0 112.9C615.3 113.4 611.7 114.2 609.3 113.7C607.0 113.3 605.3 111.7 604.1 110.3C602.9 108.8 602.5 106.8 602.4 105.1C602.2 103.3 602.7 101.5 603.3 99.9C603.8 98.2 604.8 96.9 605.9 95.5C606.9 94.1 608.7 92.4 609.3 91.7"/><path d="M619.7 73.5 L621.5 79.9"/><path d="M609.3 113.7C610.8 114.0 615.0 115.3 618.0 115.5C620.9 115.6 624.3 115.0 626.7 114.6C629.0 114.2 630.1 112.7 631.9 112.9C633.6 113.0 636.2 115.0 637.1 115.5"/><path d="M608.5 119.8C609.2 119.4 610.9 117.5 612.8 117.2C614.7 116.9 617.7 117.5 619.7 118.1C621.8 118.6 624.3 119.3 624.9 120.7C625.5 122.0 622.9 124.4 623.2 125.9C623.5 127.3 626.1 128.7 626.7 129.3"/><path d="M605.9 127.6C607.0 127.3 609.8 126.2 612.8 125.9C615.7 125.6 621.4 125.9 623.2 125.9"/><path d="M564.3 123.3C565.3 122.8 567.6 124.0 568.6 125.0C569.6 126.0 570.3 127.7 570.3 129.3C570.3 130.9 569.3 133.3 568.6 134.5C567.9 135.7 566.7 136.6 566.0 136.3C565.3 136.0 564.9 134.3 564.3 132.8C563.7 131.3 562.5 129.2 562.5 127.6C562.5 126.0 563.2 123.7 564.3 123.3"/><path d="M559.5 139.4C559.2 140.2 558.1 142.8 557.4 144.6C556.7 146.3 555.5 148.2 555.4 149.8C555.2 151.3 555.5 152.5 556.4 153.9C557.3 155.3 559.7 156.5 560.6 158.1C561.4 159.7 561.4 162.4 561.6 163.3"/><path d="M540.8 146.6C541.9 147.0 545.3 148.5 547.0 148.7C548.8 148.9 549.8 147.5 551.2 147.7C552.6 147.9 554.7 149.4 555.4 149.8"/><path d="M547.0 148.7C547.7 149.4 549.6 152.0 551.2 152.9C552.8 153.8 555.5 153.7 556.4 153.9"/><path d="M551.2 152.9C550.1 153.6 547.4 156.2 545.0 157.0C542.5 157.9 539.1 157.4 536.6 158.1C534.2 158.8 531.5 160.7 530.4 161.2"/><path d="M559.5 139.4C560.4 138.5 562.9 135.2 564.7 134.2C566.5 133.1 568.0 132.9 569.9 133.1C571.9 133.3 574.0 134.5 576.2 135.2C578.3 135.9 579.9 137.2 582.4 137.3C584.9 137.4 587.9 136.0 590.7 135.8C593.5 135.6 596.2 135.8 599.0 136.2C601.9 136.7 605.6 136.9 607.4 138.3C609.1 139.7 609.4 142.4 609.4 144.6C609.4 146.7 609.1 149.4 607.4 150.8C605.6 152.2 601.7 152.5 599.0 152.9C596.4 153.2 593.0 152.9 591.8 152.9"/><path d="M582.4 137.3C582.6 138.3 583.1 141.4 583.4 143.5C583.8 145.6 585.2 148.3 584.5 149.8C583.8 151.2 580.5 151.0 579.3 151.8C578.0 152.7 576.7 153.9 577.2 155.0C577.7 156.0 580.5 157.4 582.4 158.1C584.3 158.8 586.9 159.5 588.6 159.1C590.4 158.8 592.3 157.1 592.8 156.0C593.3 154.9 593.2 153.9 591.8 152.9C590.3 151.8 585.7 150.3 584.5 149.8"/><path d="M561.6 163.3C563.0 163.5 567.1 164.7 569.9 164.3C572.7 164.0 576.1 162.3 578.2 161.2C580.4 160.1 581.7 158.6 582.4 158.1"/><path d="M588.6 159.1C589.2 159.8 591.6 161.9 591.8 163.3C591.9 164.7 591.3 166.4 589.7 167.4C588.1 168.5 584.7 169.3 582.4 169.5C580.1 169.7 578.3 168.8 576.2 168.5C574.0 168.1 571.0 168.1 569.9 167.4C568.9 166.7 569.9 164.8 569.9 164.3"/><path d="M556.4 166.4 L561.6 163.3"/><path d="M569.9 167.4C569.2 168.0 567.5 170.0 565.8 170.6C564.0 171.1 561.1 170.9 559.5 170.6C557.9 170.2 556.9 169.2 556.4 168.5C555.9 167.8 556.4 166.8 556.4 166.4"/><path d="M559.5 170.6C559.2 171.3 557.3 173.3 557.4 174.7C557.6 176.1 559.3 178.3 560.6 178.9C561.8 179.4 563.5 178.2 564.7 177.8C566.0 177.5 566.6 177.3 567.8 176.8C569.1 176.3 570.6 175.6 572.0 174.7C573.4 173.8 574.7 172.1 576.2 171.6C577.6 171.1 579.3 172.0 580.3 171.6C581.4 171.2 582.0 169.9 582.4 169.5"/><path d="M567.8 176.8C568.5 177.7 570.4 180.4 572.0 182.0C573.6 183.6 575.4 184.7 577.2 186.2C579.0 187.6 580.8 188.9 582.4 190.3C584.0 191.7 585.3 192.9 586.6 194.5C587.8 196.1 589.3 198.3 589.7 199.7C590.0 201.1 589.2 202.8 588.6 202.8C588.1 202.8 587.3 200.7 586.6 199.7C585.8 198.6 584.8 197.1 584.5 196.6"/><path d="M576.2 171.6C576.5 172.7 577.2 175.9 578.2 177.8C579.3 179.8 580.8 181.3 582.4 183.0C584.0 184.8 586.0 186.5 587.6 188.2C589.2 190.0 590.9 191.7 591.8 193.4C592.6 195.2 593.0 198.1 592.8 198.6C592.6 199.2 591.8 197.3 590.7 196.6C589.7 195.8 587.3 194.8 586.6 194.5"/><path d="M564.7 183.0C565.2 182.7 566.3 183.0 566.8 184.1C567.3 185.1 567.5 188.0 567.4 189.3C567.3 190.5 565.9 190.5 566.2 191.4C566.4 192.2 568.5 193.2 568.9 194.5C569.2 195.7 569.0 197.8 568.3 198.6C567.5 199.5 565.5 200.4 564.7 199.7C563.9 199.0 563.7 196.1 563.7 194.5C563.7 192.9 564.6 191.7 564.7 190.3C564.8 188.9 564.1 187.4 564.1 186.2C564.1 184.9 564.3 183.4 564.7 183.0"/><path d="M578.2 203.8C579.3 203.1 586.2 202.1 587.6 202.8C589.0 203.5 587.6 207.3 586.6 208.0C585.5 208.7 582.8 207.7 581.4 207.0C579.9 206.2 577.2 204.5 578.2 203.8"/><path d="M582.4 169.5C583.3 169.3 586.0 168.3 587.6 168.5C589.2 168.7 591.4 169.9 591.8 170.6C592.1 171.3 590.7 172.5 589.7 172.6C588.6 172.8 586.8 171.6 585.5 171.6C584.3 171.6 582.2 171.8 582.4 172.6C582.6 173.5 585.0 175.2 586.6 176.8C588.1 178.4 590.0 180.4 591.8 182.0C593.5 183.6 596.1 185.4 597.0 186.2"/><path d="M591.8 163.3C593.0 162.9 596.4 161.4 599.0 161.2C601.7 161.0 605.2 161.2 607.4 162.2C609.5 163.3 611.5 165.8 611.5 167.4C611.5 169.0 609.5 170.7 607.4 171.6C605.2 172.5 601.7 172.8 599.0 172.6C596.4 172.5 593.0 170.9 591.8 170.6"/><path d="M599.0 152.9C599.7 153.6 601.8 155.4 603.2 157.0C604.6 158.6 606.6 161.4 607.4 162.2"/><path d="M549.1 210.1C550.4 209.7 553.9 208.5 556.4 208.0C558.9 207.5 561.4 207.2 563.7 207.4C566.0 207.5 568.5 208.0 569.9 209.0C571.3 210.0 572.0 211.6 572.0 213.2C572.0 214.8 569.7 216.6 569.9 218.4C570.1 220.2 572.2 222.2 573.0 223.6C573.9 225.0 575.5 225.7 575.1 226.7C574.8 227.8 572.0 228.6 571.0 229.8C569.9 231.1 569.4 232.2 568.9 234.0C568.3 235.8 567.8 237.5 567.8 240.2C567.8 243.0 568.7 248.3 568.9 250.0"/><path d="M563.7 207.4C563.5 208.4 563.2 211.1 562.6 213.2C562.1 215.2 560.7 217.7 560.6 219.4C560.4 221.2 560.9 222.0 561.6 223.6C562.3 225.2 563.8 227.0 564.7 228.8C565.6 230.6 566.3 232.0 566.8 234.0C567.3 235.9 567.7 239.2 567.8 240.2"/><path d="M575.1 226.7C576.4 226.9 580.1 226.9 582.4 227.8C584.7 228.6 586.5 231.0 588.6 231.9C590.8 232.8 592.4 233.3 594.9 233.0C597.4 232.6 600.4 230.7 603.2 229.8C606.0 228.9 610.1 228.1 611.5 227.8"/><path d="M532.5 179.9C533.9 180.3 538.3 181.8 540.8 182.0C543.3 182.2 544.9 181.3 547.0 181.0C549.2 180.6 551.5 181.0 553.3 179.9C555.0 178.9 556.7 175.6 557.4 174.7"/><path d="M546.0 203.8 L545.0 208.0"/><path d="M567.2 230.0C567.4 232.0 568.2 237.8 568.7 241.8C569.2 245.8 568.9 249.6 570.1 253.6C571.4 257.6 573.0 263.0 576.0 265.4C579.1 267.8 585.8 267.4 587.8 267.8"/><path d="M520.0 262.4C522.5 264.5 530.0 270.5 534.7 274.2C539.5 278.0 543.5 284.6 548.0 284.6C552.5 284.6 556.5 277.5 561.3 274.2C566.1 271.0 573.5 266.9 576.0 265.4"/><path d="M587.8 267.8C588.6 269.9 591.8 275.5 592.3 280.1C592.8 284.8 591.8 290.4 590.8 294.9C589.8 299.4 587.6 304.4 586.4 306.7C585.1 309.0 583.9 307.9 583.4 308.2"/><path d="M548.0 284.6C548.0 286.8 548.5 293.6 548.0 297.8C547.5 302.1 545.1 307.6 545.1 309.6C545.1 311.7 546.3 309.9 548.0 309.6C549.8 309.4 552.6 307.9 555.4 308.2C558.2 308.4 561.2 310.9 564.2 311.1C567.3 311.4 569.8 310.1 573.1 309.6C576.4 309.1 581.7 308.4 583.4 308.2"/><path d="M548.0 309.6C547.5 311.2 545.3 315.0 545.1 318.5C544.8 322.0 545.8 326.5 546.5 330.3C547.3 334.1 547.7 337.9 549.5 340.6C551.3 343.4 554.1 345.5 556.9 346.5C559.6 347.5 564.0 347.5 565.7 346.5C567.5 345.5 565.7 342.4 567.2 340.6C568.7 338.9 572.6 337.9 574.6 336.2C576.6 334.4 577.5 333.3 579.0 330.3C580.5 327.3 582.2 322.0 583.4 318.5C584.7 315.0 586.4 311.4 586.4 309.6C586.4 307.9 583.9 308.4 583.4 308.2"/><path d="M586.4 309.6C586.9 311.2 589.3 315.5 589.3 318.5C589.3 321.5 586.1 324.8 586.4 327.3C586.6 329.9 590.3 330.2 590.8 333.2C591.3 336.3 589.1 341.0 589.3 345.0C589.6 349.1 593.3 355.1 592.3 356.8C591.3 358.6 586.2 355.4 583.4 355.4C580.7 355.4 578.3 356.8 576.0 356.8C573.8 356.8 571.7 356.9 570.1 355.4C568.6 353.9 567.9 349.5 567.2 348.0C566.4 346.5 566.0 346.8 565.7 346.5"/><path d="M570.1 355.4C569.9 357.1 569.2 362.7 568.7 365.7C568.2 368.7 566.7 371.1 567.2 373.1C567.7 375.1 570.4 376.0 571.6 377.5C572.9 379.0 573.6 382.4 574.6 381.9C575.6 381.4 576.0 376.0 577.5 374.5C579.0 373.0 582.7 375.1 583.4 373.1C584.2 371.1 581.9 365.8 581.9 362.7C581.9 359.7 583.2 356.6 583.4 355.4"/><path d="M574.6 381.9C575.3 382.7 577.0 385.8 579.0 386.3C581.0 386.8 584.1 384.9 586.4 384.9C588.6 384.9 591.3 386.1 592.3 386.3"/><path d="M579.0 386.3C578.7 387.3 577.3 389.9 577.5 392.2C577.8 394.6 580.0 398.9 580.5 400.2"/><path d="M587.8 267.8C591.4 269.4 603.0 274.6 608.5 277.2C614.0 279.8 618.3 282.1 620.3 283.1"/><path d="M520.0 303.7C522.0 303.5 528.8 301.5 531.8 302.3C534.8 303.0 535.4 306.9 537.7 308.2C540.0 309.4 543.8 309.4 545.1 309.6"/><path d="M531.8 302.3C532.1 304.5 533.3 311.3 533.3 315.5C533.3 319.8 531.5 323.3 531.8 327.3C532.1 331.4 535.3 336.4 534.7 339.1C534.2 341.9 531.4 343.1 528.8 343.6C526.3 344.1 521.5 342.3 520.0 342.1"/><path d="M537.7 308.2C537.9 310.9 538.4 319.1 539.2 324.4C539.9 329.7 542.9 336.6 542.1 339.1C541.4 341.7 536.0 339.1 534.7 339.1"/><path d="M542.1 339.1 L549.5 340.6"/><path d="M592.3 280.1C595.0 281.7 604.2 285.5 608.5 289.0C612.8 292.5 616.3 296.3 617.3 300.8C618.3 305.3 616.4 311.5 614.4 315.5C612.4 319.6 609.6 321.4 605.5 324.4C601.5 327.4 593.3 331.7 590.8 333.2"/><path d="M592.3 356.8C594.5 356.3 601.3 355.4 605.5 353.9C609.8 352.4 613.8 351.0 617.3 348.0C620.9 345.0 626.2 340.2 626.2 336.2C626.2 332.2 619.4 327.9 617.3 324.4C615.3 320.9 614.9 317.1 614.4 315.5"/><path d="M620.0 74.4C621.2 74.6 624.4 75.0 627.3 75.6C630.3 76.2 633.8 77.0 637.1 78.1C640.5 79.1 644.0 80.5 646.9 81.7C649.9 83.0 653.3 84.2 654.3 85.4C655.3 86.7 654.7 88.1 653.1 89.1C651.4 90.1 647.2 91.3 644.5 91.5C641.8 91.8 639.2 90.9 637.1 90.3C635.1 89.7 632.7 87.9 632.2 87.9C631.8 87.9 633.4 89.1 634.7 90.3C635.9 91.6 637.5 94.0 639.6 95.2C641.7 96.5 644.4 97.9 646.9 97.7C649.4 97.5 652.2 95.0 654.3 94.0C656.4 93.0 657.3 92.4 659.2 91.5C661.1 90.7 664.7 90.3 665.3 89.1C665.9 87.8 663.1 85.4 662.9 84.2C662.7 82.9 663.1 82.0 664.1 81.7C665.1 81.5 668.0 82.1 669.0 83.0C670.0 83.8 669.0 86.4 670.2 86.6C671.5 86.9 674.1 85.2 676.3 84.2C678.6 83.2 681.2 81.4 683.7 80.5C686.2 79.7 688.5 79.7 691.0 79.3C693.5 78.9 695.9 78.1 698.4 78.1C700.9 78.1 703.7 79.5 705.7 79.3C707.8 79.1 708.6 77.3 710.6 76.8C712.7 76.4 715.5 76.2 718.0 76.8C720.5 77.5 723.5 79.7 725.3 80.5C727.2 81.4 728.6 82.2 729.0 81.7C729.4 81.3 728.8 79.5 727.8 78.1C726.7 76.6 723.5 74.8 722.9 73.2C722.3 71.5 723.3 69.5 724.1 68.3C724.9 67.0 726.3 66.0 727.8 65.8C729.2 65.6 731.4 66.0 732.7 67.0C733.9 68.1 734.1 70.1 735.1 71.9C736.2 73.8 737.8 76.0 738.8 78.1C739.9 80.2 741.1 82.3 741.3 84.2C741.5 86.1 739.6 88.2 740.0 89.1C740.5 90.0 742.5 90.0 743.7 89.6C745.0 89.2 746.6 88.0 747.4 86.6C748.2 85.3 749.0 83.0 748.6 81.7C748.2 80.5 746.2 80.5 744.9 79.3C743.7 78.0 742.1 76.3 741.3 74.4C740.4 72.5 739.4 69.1 740.0 68.3C740.7 67.4 742.9 69.5 744.9 69.5C747.0 69.5 750.4 68.3 752.3 68.3C754.2 68.3 755.1 69.9 756.0 69.5C756.8 69.1 755.7 66.9 757.2 65.8C758.6 64.8 762.5 64.6 764.5 63.4C766.6 62.1 767.4 59.9 769.4 58.5C771.5 57.0 773.9 55.6 776.8 54.8C779.7 54.0 783.7 54.1 786.6 53.6C789.5 53.1 791.4 52.4 793.9 51.9C796.4 51.3 798.8 50.4 801.3 50.4C803.8 50.4 806.1 51.3 808.6 51.9C811.1 52.4 813.1 53.2 816.0 53.6C818.9 54.0 823.5 53.7 825.8 54.3C828.1 54.9 829.5 56.2 829.5 57.2C829.5 58.2 827.0 59.4 825.8 60.2C824.5 61.0 822.3 61.4 822.1 62.1C821.9 62.9 823.1 64.4 824.6 64.6C826.0 64.8 828.0 63.7 830.7 63.4C833.4 63.0 837.1 62.6 840.5 62.6C843.8 62.6 846.9 62.8 850.3 63.4C853.6 63.9 857.8 65.6 860.1 65.8C862.4 66.0 862.5 64.7 863.8 64.6C865.0 64.5 866.0 65.2 867.4 65.1C868.9 65.0 870.7 64.2 872.3 64.1C874.0 64.0 875.1 63.9 877.2 64.6C879.3 65.3 882.5 67.0 884.6 68.3C886.7 69.5 887.8 71.0 889.5 71.9C891.1 72.9 892.6 74.3 894.4 73.9C896.2 73.5 899.1 70.2 900.0 69.5"/><path d="M899.7 70.7C901.8 70.5 909.7 70.1 912.0 69.5C914.3 68.9 910.7 67.4 913.2 67.0C915.7 66.7 922.7 67.2 926.7 67.5C930.7 67.9 932.7 68.3 936.5 69.0C940.2 69.8 944.6 71.2 948.7 71.9C952.9 72.7 957.2 72.8 961.0 73.2C964.7 73.5 967.9 73.3 970.8 73.9C973.7 74.5 974.8 76.1 978.1 76.8C981.5 77.6 986.6 77.7 990.4 78.1C994.1 78.5 997.3 78.8 1000.2 79.3C1003.1 79.8 1006.1 81.7 1007.5 81.3C1009.0 80.8 1006.7 77.4 1008.8 76.8C1010.8 76.3 1015.4 77.4 1019.8 78.1C1024.2 78.7 1029.5 79.5 1034.5 80.5C1039.5 81.6 1044.2 82.9 1049.2 84.2C1054.2 85.4 1059.3 86.7 1063.9 87.9C1068.5 89.0 1073.6 89.8 1076.1 91.1C1078.6 92.3 1079.4 94.7 1078.6 95.2C1077.7 95.7 1074.1 94.4 1071.2 94.0C1068.3 93.6 1064.1 92.6 1061.4 92.8C1058.7 93.0 1055.7 94.2 1055.3 95.2C1054.9 96.3 1057.1 97.9 1059.0 98.9C1060.9 99.9 1066.3 100.3 1066.3 101.3C1066.3 102.4 1061.9 104.0 1059.0 105.0C1056.1 106.1 1052.5 106.4 1049.2 107.5C1045.9 108.5 1042.3 109.9 1039.4 111.1C1036.5 112.4 1033.3 114.4 1032.0 115.1"/><path d="M65.8 90.3C68.2 89.1 75.4 85.3 79.9 83.3C84.3 81.2 88.5 79.6 92.0 78.2C95.4 76.9 97.3 76.1 100.0 75.2C102.7 74.4 105.0 73.7 108.0 73.2C111.1 72.7 114.7 72.4 118.1 72.2C121.5 72.0 124.7 71.9 128.2 72.2C131.6 72.5 134.8 73.5 138.2 74.2C141.6 74.9 145.0 75.7 148.3 76.2C151.5 76.7 154.6 76.7 157.3 77.2C160.1 77.7 161.8 79.1 164.4 79.2C167.0 79.3 169.7 78.0 172.4 77.8C175.2 77.7 177.7 78.4 180.5 78.2C183.2 78.0 186.0 77.0 188.5 76.6C191.1 76.2 193.2 75.7 195.6 75.8C198.0 75.9 200.1 76.8 202.6 77.2C205.2 77.6 207.9 77.9 210.7 78.2C213.4 78.6 216.3 78.7 218.7 79.2C221.1 79.7 223.6 80.4 224.7 81.2C225.9 82.1 224.4 83.8 225.8 84.3C227.1 84.7 230.6 84.4 232.8 83.9C235.0 83.4 236.8 81.9 238.8 81.2C240.9 80.6 242.5 80.6 244.9 80.2C247.3 79.9 250.2 79.2 252.9 79.2C255.7 79.2 258.6 80.2 261.0 80.2C263.4 80.2 265.3 79.1 267.0 79.2C268.7 79.4 269.3 80.6 271.0 81.2C272.7 81.9 275.2 83.3 277.1 83.3C278.9 83.3 280.6 82.4 282.1 81.2C283.6 80.1 285.4 77.1 286.1 76.2"/><path d="M211.7 69.2C212.0 68.0 214.5 66.3 216.7 65.2C218.9 64.0 222.0 62.8 224.7 62.1C227.5 61.4 230.1 61.1 232.8 61.1C235.5 61.1 239.0 61.4 240.8 62.1C242.7 62.8 242.2 64.5 243.9 65.2C245.6 65.8 248.3 65.8 250.9 66.2C253.5 66.5 256.9 67.5 259.0 67.2C261.0 66.8 261.8 64.3 263.0 64.1C264.2 64.0 265.7 65.0 266.0 66.2C266.3 67.4 265.8 69.6 265.0 71.2C264.1 72.7 261.0 74.0 261.0 75.2C261.0 76.4 265.3 77.4 265.0 78.2C264.6 79.1 261.3 80.1 259.0 80.2C256.6 80.4 253.3 79.7 250.9 79.2C248.5 78.7 247.3 77.6 244.9 77.2C242.5 76.9 239.2 77.4 236.8 77.2C234.4 77.1 232.7 76.6 230.8 76.2C228.9 75.9 227.5 75.7 225.8 75.2C224.0 74.7 222.6 73.7 220.7 73.2C218.8 72.7 216.2 72.9 214.7 72.2C213.1 71.5 211.3 70.4 211.7 69.2"/><path d="M226.8 70.2 L236.8 70.6"/><path d="M227.8 73.2 L237.8 74.2"/><path d="M238.8 53.1C238.8 52.3 242.5 51.4 244.9 51.1C247.3 50.7 250.9 50.7 252.9 51.1C255.0 51.4 256.9 52.4 256.9 53.1C256.9 53.8 255.0 54.6 252.9 55.1C250.9 55.5 247.3 56.0 244.9 55.7C242.5 55.4 238.8 53.9 238.8 53.1"/><path d="M250.9 57.1C251.2 56.1 256.2 55.3 259.0 55.1C261.7 54.9 264.6 56.3 267.0 56.1C269.4 55.9 271.3 53.9 273.0 54.1C274.7 54.3 277.1 56.1 277.1 57.1C277.1 58.1 275.1 59.6 273.0 60.1C271.0 60.6 267.7 59.9 265.0 60.1C262.3 60.3 259.3 61.6 256.9 61.1C254.5 60.6 250.6 58.1 250.9 57.1"/><path d="M271.0 49.1C271.7 48.4 275.7 47.7 277.1 48.0C278.4 48.4 279.8 50.4 279.1 51.1C278.4 51.8 274.4 52.4 273.0 52.1C271.7 51.7 270.3 49.7 271.0 49.1"/><path d="M269.0 79.2C269.9 78.6 273.3 77.2 275.1 77.2C276.8 77.2 279.1 78.6 279.1 79.2C279.1 79.9 276.6 80.9 275.1 81.2C273.5 81.6 271.0 81.6 270.0 81.2C269.0 80.9 268.2 79.9 269.0 79.2"/><path d="M305.9 68.7C305.9 67.3 308.7 65.9 310.5 64.8C312.4 63.8 314.7 63.0 316.8 62.5C318.9 61.9 320.9 61.6 323.0 61.7C325.1 61.8 327.7 62.6 329.3 63.3C330.8 63.9 331.0 65.3 332.4 65.6C333.7 65.9 335.5 65.1 337.1 64.8C338.6 64.5 340.4 63.6 341.7 64.0C343.1 64.4 343.5 66.1 344.8 67.2C346.2 68.2 347.9 69.2 349.5 70.3C351.1 71.3 352.9 72.1 354.2 73.4C355.5 74.7 356.3 76.5 357.3 78.1C358.4 79.7 359.1 81.4 360.4 82.7C361.8 84.1 364.6 84.7 365.1 85.9C365.6 87.1 364.6 88.4 363.6 89.8C362.5 91.1 360.3 93.5 358.9 93.7C357.4 93.8 356.3 91.3 355.0 90.5C353.7 89.7 352.3 88.7 351.1 89.0C349.9 89.2 348.0 90.9 348.0 92.1C348.0 93.3 349.9 95.2 351.1 96.0C352.3 96.8 355.0 95.9 355.0 96.8C355.0 97.7 352.8 100.9 351.1 101.5C349.4 102.0 346.7 100.7 344.8 99.9C343.0 99.1 341.5 97.8 340.2 96.8C338.8 95.7 338.4 93.9 337.1 93.7C335.7 93.4 334.0 95.2 332.4 95.2C330.8 95.2 329.3 94.1 327.7 93.7C326.1 93.3 324.6 92.7 323.0 92.9C321.4 93.0 318.6 94.7 318.3 94.4C318.1 94.2 319.9 92.0 321.5 91.3C323.0 90.7 325.8 90.9 327.7 90.5C329.6 90.1 330.8 90.0 332.4 89.0C334.0 87.9 336.5 85.8 337.1 84.3C337.6 82.8 336.6 81.7 335.5 80.4C334.4 79.1 332.9 77.3 330.8 76.5C328.7 75.7 325.4 76.0 323.0 75.7C320.6 75.5 318.9 75.3 316.8 74.9C314.7 74.6 312.4 74.5 310.5 73.4C308.7 72.3 305.9 70.2 305.9 68.7"/><path d="M276.2 67.2C276.5 65.8 279.1 64.2 280.9 63.3C282.8 62.3 285.4 61.6 287.2 61.7C288.9 61.8 290.8 63.0 291.1 64.0C291.3 65.1 289.9 66.9 288.7 67.9C287.5 69.0 285.6 69.7 284.0 70.3C282.4 70.8 280.7 71.6 279.4 71.1C278.0 70.5 276.0 68.5 276.2 67.2"/><path d="M293.4 65.6C293.7 64.7 297.5 63.1 299.6 62.5C301.7 61.8 304.3 61.6 305.9 61.7C307.5 61.8 309.4 62.6 309.0 63.3C308.6 63.9 305.4 64.8 303.5 65.6C301.7 66.4 299.8 67.9 298.1 67.9C296.3 67.9 293.1 66.5 293.4 65.6"/><path d="M291.8 56.2C292.4 55.3 294.9 54.0 296.5 53.9C298.1 53.8 300.7 54.7 301.2 55.5C301.7 56.3 301.0 57.9 299.6 58.6C298.3 59.2 294.7 59.8 293.4 59.4C292.1 59.0 291.3 57.2 291.8 56.2"/><path d="M312.1 55.5C312.6 54.7 316.2 53.9 318.3 53.9C320.5 53.9 324.0 54.7 324.6 55.5C325.1 56.3 323.0 58.0 321.5 58.6C319.9 59.1 316.8 59.1 315.2 58.6C313.6 58.0 311.6 56.3 312.1 55.5"/><path d="M324.6 53.1C325.1 52.2 330.0 51.6 332.4 51.6C334.8 51.6 337.8 52.3 338.6 53.1C339.4 53.9 338.6 55.6 337.1 56.2C335.5 56.9 331.4 57.5 329.3 57.0C327.1 56.5 324.0 54.0 324.6 53.1"/><path d="M283.3 54.7C283.5 53.9 285.6 52.9 286.4 53.1C287.2 53.4 288.2 55.4 287.9 56.2C287.7 57.0 285.6 58.1 284.8 57.8C284.0 57.5 283.0 55.5 283.3 54.7"/><path d="M270.0 78.8C270.5 77.9 273.2 77.3 274.7 77.3C276.1 77.3 278.3 78.1 278.6 78.8C278.8 79.6 277.4 81.3 276.2 82.0C275.0 82.6 272.6 83.3 271.6 82.7C270.5 82.2 269.5 79.8 270.0 78.8"/><path d="M291.8 74.9C292.4 75.6 293.8 77.8 294.9 78.8C296.1 79.9 298.6 80.1 298.8 81.2C299.1 82.2 296.4 84.7 296.5 85.1C296.6 85.5 298.0 84.5 299.6 83.5C301.2 82.6 303.7 80.7 305.9 79.6C308.0 78.6 310.4 77.3 312.1 77.3C313.8 77.3 315.7 78.6 316.0 79.6C316.3 80.7 315.1 82.6 313.7 83.5C312.2 84.5 309.3 84.3 307.4 85.1C305.6 85.9 304.3 87.4 302.7 88.2C301.2 89.0 299.7 89.4 298.1 89.8C296.5 90.2 294.7 89.7 293.4 90.5C292.1 91.3 290.3 93.1 290.3 94.4C290.3 95.8 291.8 97.8 293.4 98.3C295.0 98.9 298.0 98.1 299.6 97.6C301.2 97.0 302.5 96.1 302.7 95.2C303.0 94.3 302.0 93.0 301.2 92.1C300.4 91.2 298.6 90.2 298.1 89.8"/><path d="M332.4 65.6C332.1 64.8 335.3 62.9 337.1 62.5C338.8 62.1 341.4 62.7 342.5 63.3C343.6 63.8 344.0 64.9 343.3 65.6C342.6 66.3 340.5 67.2 338.6 67.2C336.8 67.2 332.6 66.4 332.4 65.6"/><path d="M260.6 53.1C261.2 52.1 264.8 50.9 266.9 50.8C269.0 50.6 272.6 51.4 273.1 52.3C273.6 53.3 271.6 55.4 270.0 56.2C268.4 57.0 265.4 57.5 263.8 57.0C262.2 56.5 260.1 54.2 260.6 53.1"/><path d="M262.2 62.5C263.0 61.4 266.6 60.1 268.4 60.1C270.3 60.1 272.9 61.4 273.1 62.5C273.4 63.5 271.6 65.7 270.0 66.4C268.4 67.0 265.1 67.0 263.8 66.4C262.4 65.7 261.4 63.5 262.2 62.5"/><path d="M259.1 73.4C259.9 72.3 263.6 71.1 265.3 71.1C267.0 71.1 269.0 72.5 269.2 73.4C269.5 74.3 268.3 75.8 266.9 76.5C265.4 77.2 262.0 77.8 260.6 77.3C259.3 76.8 258.3 74.5 259.1 73.4"/><path d="M271.1 435.3C271.3 437.7 272.0 444.7 272.2 449.5C272.5 454.3 272.5 458.9 272.7 463.7C272.9 468.6 273.5 473.6 273.4 478.0C273.4 482.4 271.8 485.8 272.2 489.9C272.6 493.9 275.0 497.7 275.8 501.7C276.6 505.8 277.0 510.0 277.0 513.6C277.0 517.3 275.6 519.9 275.8 523.1C276.0 526.3 277.2 529.4 278.2 532.6C279.2 535.8 280.5 538.9 281.7 542.1C283.0 545.3 284.3 548.4 285.3 551.6C286.3 554.8 286.7 558.1 287.7 561.1C288.7 564.1 290.0 566.7 291.2 569.4C292.5 572.1 294.2 575.7 294.8 577.0"/><path d="M277.5 435.3C277.6 437.7 277.9 444.7 278.2 449.5C278.5 454.3 278.8 459.3 279.4 463.7C280.0 468.2 281.5 471.6 281.7 475.6C281.9 479.7 280.4 483.5 280.6 487.5C280.8 491.5 282.3 495.3 282.9 499.4C283.5 503.4 284.2 507.6 284.1 511.2C284.0 514.9 282.1 517.5 282.2 520.7C282.3 524.0 283.9 527.0 284.6 530.2C285.3 533.5 285.6 536.5 286.5 539.7C287.4 543.0 289.0 546.0 290.1 549.2C291.1 552.5 291.6 555.5 292.4 558.7C293.2 562.0 294.0 565.1 294.8 568.2C295.6 571.3 296.8 575.5 297.2 577.0"/><path d="M386.2 440.0C385.8 442.0 385.5 448.2 383.9 451.9C382.2 455.5 379.6 459.0 376.7 461.4C373.9 463.8 370.5 464.9 367.2 466.1C364.0 467.3 360.2 466.9 357.7 468.5C355.3 470.1 353.4 472.8 353.0 475.6C352.6 478.4 355.8 481.9 355.4 485.1C355.0 488.3 352.0 491.4 350.6 494.6C349.2 497.8 348.3 501.3 347.0 504.1C345.8 506.9 345.3 509.4 343.5 511.2C341.7 513.1 338.8 514.0 336.4 514.8C333.9 515.6 330.0 514.6 329.2 516.0C328.4 517.4 332.0 520.9 331.6 523.1C331.2 525.3 328.9 527.6 326.9 529.1C324.8 530.5 321.8 530.0 319.7 531.4C317.7 532.8 316.6 535.7 315.0 537.4C313.4 539.0 311.2 539.7 310.2 540.9C309.2 542.1 308.2 543.7 309.1 544.5C309.9 545.3 313.8 544.7 315.0 545.7C316.2 546.7 316.8 549.0 316.2 550.4C315.6 551.8 312.4 552.6 311.4 554.0C310.4 555.4 310.2 557.1 310.2 558.7C310.2 560.4 310.6 561.9 311.4 563.5C312.2 565.1 314.2 566.6 315.0 568.2C315.8 569.9 316.6 571.5 316.2 573.0C315.8 574.5 313.2 576.3 312.6 577.0"/><path d="M315.0 449.5C315.4 451.1 315.7 456.6 317.4 459.0C319.0 461.4 322.1 462.1 324.5 463.7C326.9 465.4 330.0 467.3 331.6 468.5C333.2 469.7 333.2 469.3 334.0 470.9C334.8 472.5 336.8 475.6 336.4 478.0C336.0 480.4 333.2 482.9 331.6 485.1C330.0 487.3 327.9 489.2 326.9 491.1C325.9 492.9 324.9 494.6 325.7 495.8C326.5 497.0 329.4 497.4 331.6 498.2C333.8 499.0 336.7 499.5 338.7 500.6C340.8 501.6 342.9 502.3 343.5 504.1C344.1 505.9 342.5 510.0 342.3 511.2"/><path d="M325.7 495.8C325.3 497.2 323.5 501.5 323.3 504.1C323.1 506.7 323.5 509.2 324.5 511.2C325.5 513.3 328.4 515.2 329.2 516.0"/><path d="M318.6 475.6C318.8 476.8 317.9 481.5 319.7 482.7C321.6 484.0 327.4 484.0 329.2 482.7C331.1 481.5 330.2 476.8 330.4 475.6"/><path d="M379.6 378.0C381.4 378.6 387.3 379.0 390.5 381.1C393.7 383.3 396.7 386.8 398.3 390.5C399.9 394.2 400.4 398.8 399.9 403.0C399.3 407.2 396.5 411.2 395.2 415.5C393.9 419.7 392.9 423.7 392.1 428.0C391.3 432.2 390.8 438.3 390.5 440.4"/><path d="M642.0 220.8C643.5 222.0 647.7 225.4 650.7 227.7C653.6 230.1 656.1 229.9 659.3 234.7C662.6 239.4 666.2 248.7 669.7 255.5C673.3 262.2 676.6 268.6 680.1 274.5C683.7 280.4 687.0 285.1 690.5 290.1C694.1 295.1 697.4 299.9 700.9 304.0C704.5 308.1 707.8 311.7 711.3 314.4C714.9 317.0 717.6 319.0 721.7 319.6C725.8 320.2 731.5 318.4 735.6 317.9C739.7 317.3 744.8 314.4 746.0 316.1C747.2 317.9 744.9 323.2 742.5 328.2C740.2 333.3 735.6 339.7 732.1 345.6C728.6 351.5 725.3 357.0 721.7 362.9C718.2 368.8 714.3 374.9 711.3 380.2C708.4 385.5 706.4 390.0 704.4 394.1C702.3 398.2 700.1 402.7 699.2 404.5"/><path d="M664.5 231.2C666.6 234.7 672.8 245.5 676.7 252.0C680.5 258.5 683.5 263.4 687.1 269.3C690.6 275.2 693.9 281.4 697.5 286.7C701.0 292.0 704.6 296.4 707.9 300.5C711.1 304.6 713.0 308.6 716.5 310.9C720.1 313.3 724.2 315.0 728.6 314.4C733.1 313.8 737.8 309.8 742.5 307.5C747.2 305.1 751.7 302.9 756.4 300.5C761.1 298.2 766.4 296.5 770.2 293.6C774.1 290.6 778.9 286.4 778.9 283.2C778.9 279.9 773.5 275.4 770.2 274.5C767.0 273.6 762.8 278.9 759.8 278.0C756.9 277.1 755.9 272.6 752.9 269.3C750.0 266.1 745.5 263.1 742.5 258.9C739.6 254.8 737.9 249.2 735.6 245.1C733.2 240.9 729.8 236.4 728.6 234.7"/><path d="M728.6 234.7C730.4 235.8 735.8 238.6 739.0 241.6C742.3 244.5 744.8 249.3 747.7 252.0C750.7 254.6 753.7 255.4 756.4 257.2C759.0 259.0 761.0 259.4 763.3 262.4C765.7 265.3 769.1 272.5 770.2 274.5"/><path d="M714.8 200.0C716.0 202.4 719.4 208.0 721.7 213.9C724.1 219.8 727.5 231.1 728.6 234.7"/><path d="M747.7 241.6C750.4 243.4 757.1 249.0 763.3 252.0C769.5 254.9 778.2 257.2 784.1 258.9C790.0 260.7 793.3 260.6 798.0 262.4C802.7 264.2 808.3 265.8 811.8 269.3C815.4 272.9 815.8 277.3 818.8 283.2C821.7 289.1 825.6 296.9 829.2 304.0C832.7 311.1 836.3 318.9 839.6 324.8C842.8 330.7 845.9 333.9 848.2 338.6C850.6 343.4 852.5 350.2 853.4 352.5"/><path d="M676.7 220.8C679.6 222.0 688.1 224.8 694.0 227.7C699.9 230.7 705.4 236.9 711.3 238.1C717.2 239.3 725.7 235.3 728.6 234.7"/><path d="M624.7 232.9C627.6 233.2 636.1 234.4 642.0 234.7C647.9 235.0 656.4 234.7 659.3 234.7"/><path d="M624.7 232.9C625.0 236.8 626.4 247.5 626.4 255.5C626.4 263.4 621.4 275.3 624.7 279.7C627.9 284.1 637.8 280.9 645.5 281.5C653.1 282.0 663.8 284.4 669.7 283.2C675.6 282.0 678.4 276.0 680.1 274.5"/><path d="M624.7 279.7C624.1 283.3 620.6 294.0 621.2 300.5C621.8 307.0 624.0 314.3 628.1 317.9C632.3 321.4 640.2 319.0 645.5 321.3C650.8 323.7 653.4 329.4 659.3 331.7C665.2 334.1 674.2 336.4 680.1 335.2C686.0 334.0 690.5 330.1 694.0 324.8C697.5 319.5 699.7 307.5 700.9 304.0"/><path d="M680.1 335.2C682.5 337.5 689.3 346.1 694.0 349.0C698.7 352.0 703.1 350.2 707.9 352.5C712.6 354.9 719.4 361.1 721.7 362.9"/><path d="M659.3 331.7C658.7 334.7 655.3 343.2 655.9 349.0C656.4 354.9 659.3 362.3 662.8 366.4C666.3 370.5 671.4 372.7 676.7 373.3C682.0 373.9 688.7 373.4 694.0 369.8C699.3 366.3 705.5 355.5 707.9 352.5"/><path d="M676.7 373.3C676.1 375.7 672.6 382.5 673.2 387.2C673.8 391.9 678.9 398.7 680.1 401.0"/><path d="M798.0 262.4C797.4 259.4 793.3 249.8 794.5 245.1C795.7 240.3 800.8 237.0 804.9 234.7C809.0 232.3 814.1 233.6 818.8 231.2C823.5 228.8 831.5 224.9 832.6 220.8C833.8 216.7 825.7 210.5 825.7 206.9C825.7 203.4 831.5 201.2 832.6 200.0"/><path d="M818.8 283.2C821.1 282.6 827.9 282.1 832.6 279.7C837.3 277.4 841.8 270.5 846.5 269.3C851.2 268.1 858.0 272.2 860.4 272.8"/></svg>
<div class="p" style="left:24px;top:93.6px;width:523px;height:462px;background:rgba(226,238,247,0.65)"></div>
<div class="p" style="left:592.8px;top:93.6px;width:523.2px;height:462px;background:rgba(212,240,241,0.65)"></div>
<div class="p" style="left:52.8px;top:235px;width:458.4px;height:237.5px;border:1.4px solid #2e333a;box-sizing:border-box"></div>
<div class="p" style="left:108px;top:449.0px;width:391px;height:1px;background:#d9dee1"></div>
<div class="p" style="left:108px;top:426.6px;width:391px;height:1px;background:#d9dee1"></div>
<div class="p" style="left:108px;top:404.2px;width:391px;height:1px;background:#d9dee1"></div>
<div class="p" style="left:108px;top:381.8px;width:391px;height:1px;background:#d9dee1"></div>
<div class="p" style="left:108px;top:359.4px;width:391px;height:1px;background:#d9dee1"></div>
<div class="p" style="left:108px;top:337.1px;width:391px;height:1px;background:#d9dee1"></div>
<div class="p" style="left:108px;top:314.7px;width:391px;height:1px;background:#d9dee1"></div>
<div class="p" style="left:108px;top:292.3px;width:391px;height:1px;background:#d9dee1"></div>
<div class="p" style="left:108px;top:269.9px;width:391px;height:1px;background:#d9dee1"></div>
<div class="p" style="left:108px;top:247.5px;width:391px;height:1px;background:#d9dee1"></div>
<div class="p" style="left:142.7px;top:382.1px;width:63.9px;height:67.4px;background:#bf9000"></div>
<div class="p" style="left:272.4px;top:346.2px;width:63.7px;height:103.3px;background:#33a3a3"></div>
<div class="p" style="left:402.2px;top:272.5px;width:63.7px;height:177.0px;background:#0582b5"></div>
<div class="p" style="left:619px;top:230.9px;width:471px;height:233.2px;border:1.4px solid #2a3535;box-sizing:border-box"></div>
<div class="p" style="left:632.3px;top:250.9px;width:182.7px;height:17.0px;background:#66d0fb"></div>
<div class="p" style="left:632.3px;top:280.8px;width:418.7px;height:17.2px;background:#17384a"></div>
<div class="p" style="left:632.3px;top:311px;width:397.9px;height:17.0px;background:#bf9000"></div>
<div class="p" style="left:632.3px;top:341.2px;width:360.7px;height:16.6px;background:#0582b5"></div>
<div class="p" style="left:632.3px;top:371.2px;width:383.1px;height:16.8px;background:#33a3a3"></div>
<div class="p" style="left:632.3px;top:401.6px;width:417.9px;height:17.1px;background:#31789c"></div>
<div class="p" style="left:652px;top:444px;width:5px;height:5px;background:#31789c"></div>
<div class="p" style="left:740.8px;top:444px;width:5px;height:5px;background:#33a3a3"></div>
<div class="p" style="left:792px;top:444px;width:5px;height:5px;background:#0582b5"></div>
<div class="p" style="left:865px;top:444px;width:5px;height:5px;background:#bf9000"></div>
<div class="p" style="left:950.5px;top:444px;width:5px;height:5px;background:#17384a"></div>
<div class="p" style="left:1023.8px;top:444px;width:5px;height:5px;background:#66d0fb"></div>
<svg class="p" style="left:908px;top:18px" width="36" height="36" viewBox="908 18 36 36">
<circle cx="926" cy="36" r="11.4" fill="none" stroke="#566e82" stroke-width="3.1"/>
<path d="M914.2 40 L913 47.8 L919.5 46.2 Z" fill="#566e82"/>
<rect x="918.5" y="35.8" width="3.2" height="9" fill="#22b4d6"/>
<rect x="924" y="32" width="3.5" height="13.5" fill="#22b4d6"/>
<rect x="929.6" y="26" width="3.1" height="19" fill="#566e82"/>
</svg>

<h1 class="g"><span class="t" style="left:38.5px;top:10.7px;font-size:36px;line-height:36px;color:#3f3f3f;font-weight:700;font-style:italic;transform:scaleX(1.0406);transform-origin:0 0">Global</span>
<span class="t" style="left:169.4px;top:10.7px;font-size:36px;line-height:36px;color:#17384a;font-weight:700;font-style:italic;transform:scaleX(0.8825);transform-origin:0 0">Luxury</span>
<span class="t" style="left:294.0px;top:10.7px;font-size:36px;line-height:36px;color:#17384a;font-weight:700;font-style:italic;transform:scaleX(0.955);transform-origin:0 0">Sanitary</span>
<span class="t" style="left:444.7px;top:10.7px;font-size:36px;line-height:36px;color:#17384a;font-weight:700;font-style:italic;transform:scaleX(1.0065);transform-origin:0 0">Napkins</span>
<span class="t" style="left:595.2px;top:10.7px;font-size:36px;line-height:36px;color:#3f3f3f;font-weight:700;font-style:italic;transform:scaleX(1.0862);transform-origin:0 0">Market</span>
<span class="t" style="left:731.4px;top:10.7px;font-size:36px;line-height:36px;color:#3f3f3f;font-weight:700;font-style:italic;transform:scaleX(0.9681);transform-origin:0 0">2018</span>
<span class="t" style="left:821.3px;top:10.7px;font-size:36px;line-height:36px;color:#3f3f3f;font-weight:700;font-style:italic;transform:scaleX(1.0164);transform-origin:0 0">to</span>
<span class="t" style="left:40.5px;top:54.0px;font-size:36px;line-height:36px;color:#3f3f3f;font-weight:700;font-style:italic;transform:scaleX(0.9694);transform-origin:0 0">2032</span></h1>
<div class="g logo"><span class="t" style="left:942.4px;top:23.6px;font-size:17px;line-height:17px;color:#2bb5d0;letter-spacing:-0.16px">Credence</span>
<span class="t" style="left:1019.7px;top:23.6px;font-size:17px;line-height:17px;color:#5a7184;letter-spacing:-0.47px">Research</span>
<span class="t" style="left:943.6px;top:42.2px;font-size:5.2px;line-height:5.2px;color:#5a7184;font-weight:700;letter-spacing:2.54px">Actionable Insights Delivered</span></div>
<section class="g chart-left"><span class="t" style="left:151.6px;top:125.3px;font-size:14.5px;line-height:14.5px;color:#262626;letter-spacing:-0.08px">Global Market Size, 2018, 2024, and 2032</span>
<span class="t" style="left:230.9px;top:146.8px;font-size:16px;line-height:16px;color:#000;font-weight:700;letter-spacing:0.77px">(USD Million)</span>
<span class="t" style="left:71.7px;top:422.4px;font-size:10.5px;line-height:10.5px;color:#575757">200.0</span>
<span class="t" style="left:71.7px;top:400.0px;font-size:10.5px;line-height:10.5px;color:#575757">400.0</span>
<span class="t" style="left:71.7px;top:377.6px;font-size:10.5px;line-height:10.5px;color:#575757">600.0</span>
<span class="t" style="left:71.7px;top:355.2px;font-size:10.5px;line-height:10.5px;color:#575757">800.0</span>
<span class="t" style="left:62.7px;top:332.9px;font-size:10.5px;line-height:10.5px;color:#575757">1,000.0</span>
<span class="t" style="left:62.7px;top:310.5px;font-size:10.5px;line-height:10.5px;color:#575757">1,200.0</span>
<span class="t" style="left:62.7px;top:288.1px;font-size:10.5px;line-height:10.5px;color:#575757">1,400.0</span>
<span class="t" style="left:62.7px;top:265.7px;font-size:10.5px;line-height:10.5px;color:#575757">1,600.0</span>
<span class="t" style="left:62.7px;top:243.3px;font-size:10.5px;line-height:10.5px;color:#575757">1,800.0</span>
<span class="t" style="left:87.9px;top:444.5px;font-size:10.5px;line-height:10.5px;color:#575757">-</span>
<span class="t" style="left:162.1px;top:366.4px;font-size:10.5px;line-height:10.5px;color:#575757">601.3</span>
<span class="t" style="left:291.5px;top:329.9px;font-size:10.5px;line-height:10.5px;color:#575757">927.9</span>
<span class="t" style="left:417.0px;top:256.2px;font-size:10.5px;line-height:10.5px;color:#575757">1,579.8</span>
<span class="t" style="left:166.3px;top:456.2px;font-size:7.3px;line-height:7.3px;color:#444;letter-spacing:0.53px">2018</span>
<span class="t" style="left:296.2px;top:456.2px;font-size:7.3px;line-height:7.3px;color:#444;letter-spacing:0.4px">2024</span>
<span class="t" style="left:426.0px;top:456.2px;font-size:7.3px;line-height:7.3px;color:#444;letter-spacing:0.33px">2032</span></section>
<section class="g chart-right"><span class="t" style="left:766.7px;top:127.1px;font-size:16.5px;line-height:16.5px;color:#000;font-weight:700;letter-spacing:1.02px">CAGR by Region, %</span>
<span class="t" style="left:820.8px;top:255.3px;font-size:10.5px;line-height:10.5px;color:#575757;letter-spacing:-0.13px">3.3%</span>
<span class="t" style="left:1057.4px;top:284.5px;font-size:10.5px;line-height:10.5px;color:#575757;letter-spacing:-0.2px">7.5%</span>
<span class="t" style="left:1036.0px;top:314.5px;font-size:10.5px;line-height:10.5px;color:#575757">7.2%</span>
<span class="t" style="left:999.6px;top:345.2px;font-size:10.5px;line-height:10.5px;color:#575757;letter-spacing:-0.4px">6.5%</span>
<span class="t" style="left:1021.6px;top:375.5px;font-size:10.5px;line-height:10.5px;color:#575757;letter-spacing:-0.3px">6.9%</span>
<span class="t" style="left:1056.5px;top:405.3px;font-size:10.5px;line-height:10.5px;color:#575757">7.5%</span>
<span class="t" style="left:659.0px;top:441.0px;font-size:10.5px;line-height:10.5px;color:#555555;letter-spacing:0.51px">North America</span>
<span class="t" style="left:747.3px;top:441.0px;font-size:10.5px;line-height:10.5px;color:#555555;letter-spacing:0.36px">Europe</span>
<span class="t" style="left:800.0px;top:441.0px;font-size:10.5px;line-height:10.5px;color:#555555;letter-spacing:0.21px">Asia Pacific</span>
<span class="t" style="left:872.2px;top:441.0px;font-size:10.5px;line-height:10.5px;color:#555555;letter-spacing:0.5px">Latin America</span>
<span class="t" style="left:957.3px;top:441.0px;font-size:10.5px;line-height:10.5px;color:#555555;letter-spacing:0.33px">Middle East</span>
<span class="t" style="left:1031.5px;top:441.0px;font-size:10.5px;line-height:10.5px;color:#555555;letter-spacing:0.1px">Africa</span></section>
</body></html>
